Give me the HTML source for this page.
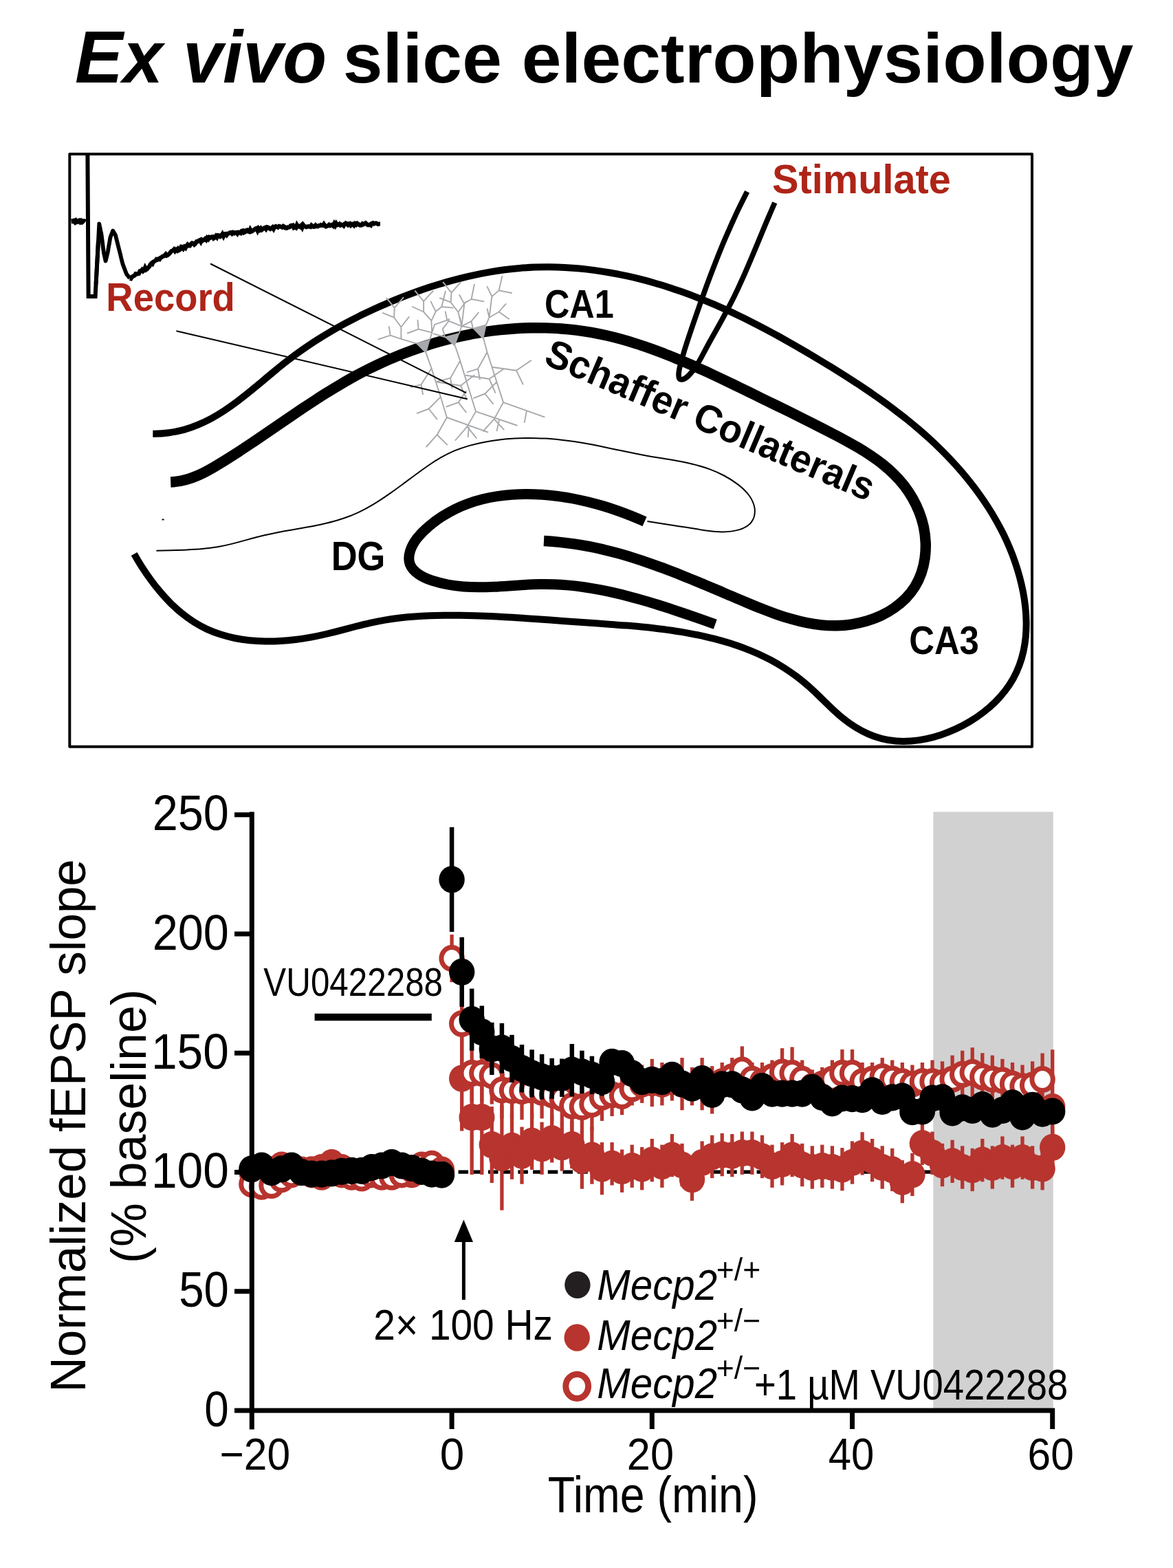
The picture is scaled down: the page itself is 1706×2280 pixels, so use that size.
<!DOCTYPE html>
<html lang="en">
<head>
<meta charset="utf-8">
<title>Ex vivo slice electrophysiology</title>
<style>
html,body{margin:0;padding:0;background:#fff;}
body{width:1706px;height:2280px;overflow:hidden;font-family:"Liberation Sans",sans-serif;}
svg{display:block;position:absolute;left:0;top:0;}
text{font-family:"Liberation Sans",sans-serif;white-space:pre;}
</style>
</head>
<body>
<svg width="1706" height="2280" viewBox="0 0 1706 2280">
<rect x="0" y="0" width="1706" height="2280" fill="#fff"/>

<g id="title">
<text transform="translate(108.97 119.70) scale(1 1.0223)" font-size="104.58" font-weight="bold" font-style="italic" fill="#000" >Ex vivo</text>
<text transform="translate(498.76 119.70) scale(1 0.9818)" font-size="103.96" font-weight="bold" font-style="normal" fill="#000" >slice electrophysiology</text>
</g>

<g id="diagram" fill="none" stroke="#000" stroke-linejoin="round">
<rect x="101.3" y="224.1" width="1399.7" height="861.7" stroke-width="4"/>
<path d="M227.4 800.8C234.6 800.6 242.0 800.4 249.4 800.2C256.8 800.0 264.3 799.8 271.8 799.4C279.3 799.1 286.8 798.7 294.2 798.0C301.7 797.3 309.1 796.4 316.4 795.2C323.7 794.0 330.9 792.4 338.0 790.6C345.1 788.8 352.2 786.9 359.3 784.9C366.4 782.9 373.5 780.9 380.6 779.2C387.8 777.4 395.1 775.9 402.4 774.4C409.8 773.0 417.1 771.7 424.5 770.5C431.9 769.2 439.3 767.9 446.6 766.6C454.0 765.3 461.3 763.8 468.5 762.2C475.8 760.6 483.0 758.9 490.0 756.8C497.1 754.7 504.0 752.4 510.8 749.6C517.6 746.9 524.2 743.7 530.7 740.3C537.2 736.8 543.6 733.1 549.9 729.1C556.1 725.1 562.3 720.9 568.4 716.6C574.5 712.3 580.6 707.8 586.6 703.4C592.7 698.9 598.7 694.4 604.7 690.0C610.7 685.5 616.7 681.2 622.8 677.0C628.8 672.8 635.0 668.9 641.4 665.2C647.7 661.6 654.3 658.3 661.1 655.4C667.9 652.6 675.0 650.2 682.2 648.1C689.4 646.0 696.7 644.3 704.1 642.9C711.4 641.5 718.8 640.3 726.2 639.4C733.5 638.5 740.9 637.9 748.3 637.5C755.7 637.1 763.1 636.9 770.5 636.9C777.9 636.9 785.3 637.2 792.7 637.6C800.0 638.0 807.4 638.7 814.8 639.5C822.1 640.2 829.5 641.2 836.8 642.3C844.1 643.4 851.5 644.7 858.8 646.1C866.0 647.4 873.3 648.9 880.6 650.4C887.9 651.9 895.2 653.4 902.4 655.0C909.7 656.5 917.0 658.0 924.2 659.5C931.5 661.0 938.8 662.4 946.1 663.7C953.4 664.9 960.7 666.1 968.0 667.3C975.3 668.5 982.5 669.7 989.8 671.1C997.0 672.5 1004.2 674.0 1011.3 675.9C1018.4 677.7 1025.5 679.8 1032.4 682.4C1039.3 684.9 1046.2 687.9 1052.9 691.5C1059.6 695.0 1066.2 699.1 1072.5 703.9C1078.9 708.7 1084.7 714.1 1089.2 720.0C1093.6 726.0 1096.7 732.4 1097.6 739.4C1098.4 746.3 1096.9 753.9 1092.7 759.3C1088.6 764.7 1081.9 768.2 1074.5 770.4C1067.0 772.5 1059.0 773.4 1051.4 773.4C1043.8 773.5 1036.4 772.7 1029.1 771.7C1021.8 770.7 1014.6 769.5 1007.3 768.3C1000.0 767.2 992.7 766.0 985.4 764.9C978.1 763.7 970.8 762.6 963.4 761.4C956.1 760.3 948.7 759.2 941.4 758.1" stroke-width="2"/>
<path d="M222.3 630.7C230.4 630.8 238.2 630.3 245.7 629.2C253.2 628.2 260.5 626.7 267.5 624.8C274.6 622.8 281.5 620.4 288.1 617.6C294.8 614.8 301.2 611.7 307.6 608.3C313.9 604.8 320.1 601.1 326.2 597.1C332.2 593.1 338.2 588.9 344.1 584.5C349.9 580.1 355.7 575.6 361.5 570.9C367.2 566.3 373.0 561.5 378.7 556.8C384.4 552.0 390.0 547.2 395.8 542.5C401.5 537.7 407.2 533.0 413.0 528.4C418.8 523.9 424.7 519.4 430.7 515.0C436.6 510.7 442.6 506.5 448.7 502.4C454.8 498.3 460.9 494.3 467.1 490.5C473.3 486.6 479.6 482.9 485.9 479.2C492.2 475.6 498.6 472.0 505.0 468.6C511.5 465.2 518.0 461.9 524.5 458.6C531.1 455.4 537.7 452.3 544.4 449.2C551.0 446.2 557.7 443.2 564.5 440.3C571.2 437.5 578.0 434.7 584.9 432.0C591.7 429.3 598.6 426.7 605.5 424.2C612.5 421.7 619.5 419.3 626.5 417.0C633.5 414.8 640.5 412.6 647.6 410.6C654.7 408.5 661.8 406.6 668.9 404.8C676.0 403.0 683.2 401.3 690.4 399.8C697.6 398.3 704.8 396.9 712.0 395.6C719.3 394.4 726.5 393.3 733.8 392.3C741.0 391.4 748.3 390.6 755.6 390.0C762.9 389.4 770.2 388.9 777.5 388.6C784.9 388.3 792.2 388.2 799.5 388.3C806.8 388.3 814.2 388.5 821.5 388.9C828.8 389.3 836.1 389.8 843.4 390.5C850.7 391.2 858.0 392.1 865.3 393.1C872.6 394.1 879.9 395.2 887.2 396.5C894.4 397.7 901.6 399.2 908.9 400.7C916.1 402.2 923.3 403.9 930.4 405.7C937.6 407.5 944.7 409.4 951.8 411.5C958.9 413.5 965.9 415.7 972.9 417.9C980.0 420.2 986.9 422.6 993.9 425.0C1000.8 427.5 1007.7 430.1 1014.5 432.8C1021.3 435.4 1028.1 438.2 1034.9 441.1C1041.6 443.9 1048.3 446.9 1055.0 449.9C1061.7 452.9 1068.3 456.0 1074.9 459.2C1081.5 462.4 1088.0 465.6 1094.6 468.9C1101.1 472.2 1107.6 475.6 1114.1 479.1C1120.5 482.5 1127.0 486.0 1133.4 489.5C1139.8 493.1 1146.2 496.7 1152.6 500.3C1158.9 504.0 1165.3 507.7 1171.6 511.4C1178.0 515.1 1184.3 518.9 1190.6 522.7C1196.9 526.4 1203.2 530.3 1209.4 534.1C1215.7 538.0 1221.9 541.9 1228.1 545.8C1234.3 549.7 1240.5 553.7 1246.7 557.7C1252.8 561.8 1258.9 565.9 1265.0 570.0C1271.0 574.2 1277.0 578.4 1283.0 582.6C1289.0 586.9 1294.9 591.2 1300.7 595.7C1306.6 600.1 1312.3 604.6 1318.1 609.1C1323.8 613.7 1329.4 618.4 1335.0 623.1C1340.6 627.9 1346.1 632.7 1351.5 637.7C1356.9 642.6 1362.2 647.6 1367.4 652.8C1372.7 657.9 1377.8 663.2 1382.9 668.6C1387.9 673.9 1392.9 679.4 1397.7 685.0C1402.5 690.6 1407.2 696.3 1411.8 702.1C1416.4 707.9 1420.8 713.8 1425.1 719.8C1429.4 725.8 1433.5 731.9 1437.5 738.1C1441.5 744.3 1445.3 750.6 1448.9 757.1C1452.5 763.5 1456.0 770.0 1459.3 776.6C1462.5 783.2 1465.6 789.9 1468.4 796.7C1471.3 803.5 1473.9 810.3 1476.3 817.3C1478.7 824.3 1480.9 831.4 1482.8 838.5C1484.7 845.6 1486.4 852.9 1487.9 860.2C1489.3 867.4 1490.4 874.8 1491.2 882.1C1492.0 889.4 1492.5 896.8 1492.6 904.1C1492.7 911.3 1492.4 918.6 1491.8 925.7C1491.1 932.9 1490.0 940.0 1488.5 946.9C1487.0 953.9 1485.0 960.7 1482.5 967.3C1480.1 974.0 1477.1 980.4 1473.6 986.7C1470.1 992.9 1466.1 999.0 1461.6 1004.8C1457.1 1010.5 1452.2 1016.1 1446.8 1021.3C1441.5 1026.6 1435.7 1031.5 1429.7 1036.1C1423.6 1040.8 1417.3 1045.1 1410.6 1049.1C1404.0 1053.0 1397.2 1056.7 1390.2 1059.9C1383.2 1063.1 1376.1 1066.0 1368.8 1068.4C1361.6 1070.8 1354.3 1072.8 1347.0 1074.4C1339.6 1075.9 1332.3 1077.0 1325.0 1077.6C1317.8 1078.1 1310.5 1078.2 1303.4 1077.6C1296.3 1077.0 1289.4 1075.8 1282.6 1074.1C1275.7 1072.3 1269.0 1070.0 1262.5 1067.1C1256.0 1064.2 1249.7 1060.9 1243.5 1057.0C1237.3 1053.2 1231.3 1048.9 1225.6 1044.2C1219.8 1039.4 1214.2 1034.3 1208.7 1029.1C1203.1 1023.8 1197.7 1018.4 1192.2 1013.1C1186.8 1007.7 1181.3 1002.5 1175.6 997.5C1170.0 992.6 1164.2 987.9 1158.4 983.5C1152.5 979.1 1146.5 975.0 1140.4 971.1C1134.3 967.3 1128.1 963.6 1121.8 960.2C1115.4 956.9 1109.0 953.7 1102.5 950.8C1096.0 947.8 1089.4 945.1 1082.7 942.6C1076.1 940.0 1069.3 937.7 1062.5 935.5C1055.6 933.4 1048.7 931.4 1041.8 929.6C1034.8 927.7 1027.7 926.1 1020.7 924.5C1013.6 923.0 1006.4 921.6 999.2 920.3C992.0 919.1 984.8 917.9 977.5 916.8C970.2 915.8 962.9 914.8 955.6 914.0C948.2 913.1 940.9 912.3 933.5 911.6C926.1 910.9 918.7 910.2 911.2 909.6C903.8 909.0 896.4 908.4 888.9 907.9C881.5 907.4 874.1 906.8 866.6 906.3C859.2 905.8 851.8 905.3 844.3 904.8C836.9 904.3 829.5 903.8 822.2 903.3C814.8 902.7 807.4 902.2 800.1 901.6C792.7 901.1 785.4 900.6 778.1 900.1C770.7 899.5 763.4 899.0 756.1 898.5C748.8 898.1 741.5 897.6 734.2 897.2C726.9 896.8 719.7 896.4 712.4 896.1C705.1 895.8 697.8 895.5 690.5 895.3C683.3 895.1 676.0 894.9 668.7 894.8C661.4 894.7 654.1 894.7 646.8 894.8C639.5 894.9 632.2 895.0 624.9 895.3C617.6 895.6 610.4 896.0 603.1 896.5C595.8 897.0 588.5 897.7 581.3 898.5C574.1 899.4 566.9 900.4 559.7 901.6C552.5 902.8 545.4 904.2 538.3 905.8C531.2 907.4 524.1 909.2 517.0 911.0C509.9 912.8 502.8 914.7 495.7 916.6C488.6 918.5 481.4 920.3 474.2 922.0C467.0 923.7 459.7 925.2 452.3 926.6C444.9 927.9 437.5 929.1 430.1 930.0C422.6 930.9 415.2 931.6 407.7 932.0C400.3 932.5 392.8 932.6 385.4 932.5C378.0 932.4 370.7 932.0 363.4 931.3C356.1 930.5 348.9 929.5 341.8 928.0C334.8 926.6 327.8 924.8 321.0 922.6C314.1 920.5 307.5 917.9 301.0 914.9C294.5 911.9 288.2 908.4 282.1 904.6C276.0 900.7 270.1 896.4 264.4 891.7C258.7 887.1 253.2 882.1 247.9 876.9C242.7 871.6 237.6 866.1 232.8 860.3C227.9 854.6 223.3 848.7 218.9 842.6C214.5 836.6 210.3 830.4 206.3 824.2C202.3 818.0 198.6 811.8 195.1 805.5" stroke-width="10"/>
<path d="M248.2 701.0C255.9 700.7 263.3 699.5 270.4 697.5C277.6 695.6 284.4 692.9 291.1 689.9C297.8 686.8 304.3 683.2 310.7 679.5C317.2 675.7 323.5 671.8 329.8 667.9C336.1 663.9 342.3 659.9 348.5 655.9C354.7 651.8 360.9 647.7 367.0 643.6C373.2 639.5 379.3 635.3 385.4 631.1C391.5 627.0 397.6 622.8 403.7 618.6C409.8 614.4 415.9 610.3 422.0 606.1C428.1 602.0 434.2 597.8 440.3 593.7C446.4 589.6 452.6 585.6 458.8 581.6C464.9 577.5 471.2 573.6 477.4 569.7C483.7 565.8 490.0 562.0 496.3 558.3C502.7 554.5 509.1 550.9 515.5 547.3C522.0 543.8 528.6 540.4 535.2 537.0C541.8 533.7 548.5 530.5 555.2 527.4C562.0 524.3 568.8 521.4 575.8 518.6C582.7 515.7 589.6 513.0 596.6 510.5C603.7 507.9 610.8 505.5 617.9 503.2C625.0 500.9 632.2 498.7 639.4 496.7C646.6 494.7 653.9 492.8 661.2 491.1C668.5 489.4 675.8 487.8 683.1 486.4C690.5 484.9 697.9 483.7 705.3 482.5C712.7 481.4 720.1 480.5 727.5 479.7C734.9 478.8 742.3 478.2 749.7 477.7C757.2 477.2 764.6 476.9 772.0 476.8C779.4 476.6 786.8 476.7 794.2 476.9C801.6 477.1 809.0 477.4 816.4 478.0C823.7 478.5 831.1 479.3 838.4 480.2C845.7 481.1 853.0 482.2 860.2 483.4C867.4 484.7 874.6 486.2 881.8 487.8C888.9 489.4 896.1 491.2 903.2 493.2C910.3 495.1 917.3 497.2 924.3 499.5C931.4 501.7 938.4 504.0 945.3 506.5C952.3 509.0 959.2 511.6 966.2 514.3C973.1 517.0 980.0 519.7 986.8 522.6C993.7 525.5 1000.5 528.4 1007.3 531.4C1014.1 534.4 1020.9 537.5 1027.7 540.6C1034.5 543.8 1041.2 546.9 1048.0 550.1C1054.7 553.3 1061.4 556.5 1068.1 559.8C1074.8 563.0 1081.5 566.3 1088.2 569.5C1094.8 572.8 1101.5 576.0 1108.1 579.3C1114.8 582.5 1121.4 585.7 1128.0 589.0C1134.7 592.2 1141.3 595.5 1147.9 598.7C1154.5 602.0 1161.1 605.3 1167.7 608.6C1174.4 611.9 1181.0 615.2 1187.6 618.6C1194.2 621.9 1200.8 625.3 1207.4 628.8C1214.1 632.2 1220.7 635.7 1227.3 639.2C1233.9 642.8 1240.5 646.4 1246.9 650.2C1253.4 654.0 1259.8 658.0 1265.9 662.1C1272.1 666.2 1278.1 670.5 1283.9 675.1C1289.6 679.7 1295.1 684.5 1300.3 689.7C1305.5 694.8 1310.4 700.3 1315.0 706.1C1319.5 712.0 1323.6 718.1 1327.3 724.6C1331.0 731.1 1334.2 737.8 1336.9 744.8C1339.6 751.8 1341.8 759.0 1343.4 766.3C1345.0 773.7 1345.9 781.3 1346.2 788.9C1346.5 796.5 1346.1 804.2 1345.1 811.7C1344.0 819.2 1342.3 826.6 1339.9 833.6C1337.5 840.6 1334.3 847.2 1330.5 853.3C1326.7 859.4 1322.2 865.0 1317.2 870.2C1312.2 875.3 1306.6 879.9 1300.6 884.0C1294.7 888.2 1288.3 891.8 1281.6 895.0C1274.9 898.1 1267.9 900.8 1260.8 902.9C1253.6 905.0 1246.3 906.7 1239.0 907.8C1231.6 909.0 1224.2 909.6 1216.8 909.8C1209.5 909.9 1202.1 909.6 1194.8 908.9C1187.5 908.1 1180.3 907.0 1173.0 905.5C1165.8 904.1 1158.6 902.3 1151.4 900.2C1144.2 898.2 1137.0 895.9 1129.9 893.4C1122.8 890.9 1115.7 888.2 1108.6 885.4C1101.6 882.7 1094.6 879.8 1087.6 876.8C1080.6 873.9 1073.6 871.0 1066.7 868.0C1059.7 865.1 1052.8 862.1 1046.0 859.2C1039.1 856.3 1032.2 853.4 1025.3 850.5C1018.5 847.6 1011.6 844.8 1004.8 842.0C998.0 839.2 991.1 836.4 984.3 833.7C977.4 831.0 970.6 828.4 963.7 825.8C956.8 823.2 949.9 820.8 943.0 818.4C936.1 816.0 929.1 813.7 922.2 811.5C915.2 809.3 908.2 807.2 901.1 805.2C894.1 803.2 887.0 801.4 879.8 799.7C872.7 797.9 865.5 796.4 858.2 794.9C851.0 793.5 843.6 792.2 836.2 791.1C828.9 790.0 821.4 789.0 813.9 788.3C806.3 787.5 798.7 786.9 791.0 786.5" stroke-width="15.4"/>
<path d="M937.5 758.4C931.1 755.5 924.5 752.7 917.8 750.0C911.1 747.3 904.3 744.7 897.4 742.3C890.5 739.9 883.5 737.6 876.4 735.5C869.3 733.4 862.1 731.5 854.9 729.7C847.6 728.0 840.3 726.4 833.0 725.0C825.7 723.6 818.3 722.5 810.9 721.5C803.6 720.5 796.2 719.8 788.8 719.3C781.4 718.8 774.1 718.5 766.7 718.5C759.4 718.5 752.1 718.8 744.9 719.3C737.6 719.8 730.4 720.6 723.3 721.7C716.2 722.8 709.2 724.1 702.2 725.8C695.3 727.5 688.4 729.5 681.7 732.0C674.9 734.4 668.2 737.2 661.6 740.4C655.0 743.7 648.5 747.4 642.1 751.6C635.6 755.8 629.2 760.5 623.1 765.8C617.0 771.0 611.3 776.7 606.6 782.7C602.0 788.8 598.3 795.2 596.4 801.8C594.4 808.5 594.2 815.2 596.4 820.8C598.6 826.3 602.9 830.9 608.5 834.7C614.1 838.6 621.0 841.7 628.3 844.2C635.7 846.6 643.5 848.5 651.2 850.0C658.8 851.4 666.4 852.3 673.9 853.0C681.4 853.6 688.9 853.8 696.3 853.8C703.7 853.9 711.1 853.6 718.4 853.3C725.8 852.9 733.1 852.4 740.4 851.9C747.7 851.4 755.0 850.9 762.3 850.4C769.5 850.0 776.8 849.6 784.1 849.5C791.3 849.3 798.6 849.4 805.9 849.7C813.1 849.9 820.4 850.4 827.7 851.1C835.0 851.8 842.2 852.7 849.5 853.7C856.7 854.8 864.0 856.0 871.2 857.4C878.5 858.7 885.7 860.3 892.9 861.9C900.1 863.5 907.3 865.3 914.5 867.2C921.7 869.1 928.8 871.0 935.9 873.1C943.1 875.2 950.2 877.3 957.2 879.5C964.3 881.8 971.3 884.0 978.3 886.3C985.3 888.7 992.3 891.0 999.2 893.4C1006.1 895.8 1013.0 898.1 1019.8 900.5C1026.7 902.9 1033.5 905.3 1040.2 907.7" stroke-width="15"/>
<path d="M1086.6 278.7C1083.2 285.4 1079.8 292.1 1076.5 298.9C1073.2 305.6 1070.0 312.5 1066.9 319.3C1063.7 326.2 1060.7 333.1 1057.7 340.1C1054.6 347.0 1051.7 354.0 1048.8 361.0C1045.9 368.0 1043.1 375.0 1040.4 382.1C1037.6 389.1 1034.9 396.2 1032.2 403.3C1029.5 410.4 1026.9 417.5 1024.4 424.6C1021.8 431.7 1019.3 438.8 1016.8 445.9C1014.3 453.0 1011.8 460.1 1009.4 467.2C1007.0 474.3 1004.6 481.3 1002.2 488.4C999.8 495.5 997.5 502.6 995.3 509.8C993.1 517.1 991.0 524.6 989.0 532.4C987.1 540.2 985.0 551.9 991.0 552.0C996.9 552.2 1002.9 544.9 1007.6 539.2C1012.2 533.5 1016.1 526.8 1019.8 520.0C1023.5 513.1 1027.1 506.2 1030.8 499.4C1034.5 492.7 1038.2 486.1 1041.9 479.5C1045.6 473.0 1049.2 466.4 1052.8 459.9C1056.4 453.3 1059.9 446.7 1063.3 440.0C1066.7 433.4 1070.0 426.6 1073.2 419.8C1076.4 412.9 1079.5 406.0 1082.6 399.1C1085.6 392.2 1088.6 385.2 1091.6 378.2C1094.5 371.2 1097.5 364.2 1100.4 357.2C1103.3 350.2 1106.2 343.2 1109.1 336.2C1112.0 329.2 1114.9 322.3 1117.9 315.4C1120.8 308.4 1123.8 301.5 1126.8 294.7" stroke-width="7.7"/>
<path d="M605.4 499.4L583.4 492.8L567.7 487.6L550.4 493.4M567.7 487.6L565.8 475.1M583.4 492.8L583.4 475.5L573.2 461.7L557.0 455.1M573.2 461.7L573.7 447.6L562.2 433.4M573.7 447.6L586.6 432.6M583.4 475.5L594.7 460.9M625.1 493.9L628.2 483.7L627.4 466.4L616.1 453.5L599.9 446.0M616.1 453.5L616.1 438.1L603.8 423.2M616.1 438.1L629.8 423.2M628.2 483.7L608.6 478.7L592.8 484.5M608.6 478.7L607.5 465.6M627.4 466.4L633.7 453.1L626.6 438.4M633.7 453.1L642.3 446.0L647.8 423.7M642.3 446.0L658.8 447.6M628.2 483.7L632.1 471.9L650.2 465.6L647.8 453.1M650.2 465.6L653.3 464.1M647.0 490.0L630.5 485.3M647.0 490.0L643.9 478.2L651.8 468.0M667.9 484.5L671.4 474.3L666.4 453.8L655.7 439.7L639.7 433.4M655.7 439.7L656.5 425.6L644.7 410.6M656.5 425.6L669.5 411.0M671.4 474.3L675.3 442.1L668.3 429.0M675.3 442.1L677.4 438.9M671.4 474.3L650.2 465.6L632.1 471.9M666.4 453.8L676.1 440.5L685.5 435.0L689.9 413.8M685.5 435.0L703.6 438.4M671.4 474.3L669.0 461.7M687.9 477.4L671.4 474.3M687.9 477.4L685.5 467.2L695.8 454.6M685.5 467.2L671.4 474.3M707.2 471.9L711.5 461.7L715.4 431.1L708.6 416.9M715.4 431.1L725.6 422.4L730.3 402.0M725.6 422.4L744.0 426.0M711.5 461.7L725.6 453.5L735.5 442.1M725.6 453.5L740.2 463.7M711.5 461.7L708.6 449.1M619.7 513.6L627.6 535.6L640.9 577.2L649.9 607.0L709.3 628.3M649.9 607.0L635.7 632.2L620.2 649.5M635.7 632.2L650.3 646.6M627.6 535.6L612.6 559.1L597.7 563.1M612.6 559.1L615.0 573.3M640.9 577.2L623.6 594.5L606.7 600.8M623.6 594.5L635.4 609.4M662.1 503.4L669.2 524.6L692.0 598.4L751.7 618.5M692.0 598.4L679.4 620.4L662.4 640.0M679.4 620.4L692.8 636.9M681.8 621.2L680.7 635.3M669.2 524.6L655.1 549.7L634.6 555.2M655.1 549.7L657.4 563.8M677.8 568.6L666.8 585.1L649.2 591.3M666.8 585.1L677.8 599.5M689.6 545.8L670.0 560.7L633.8 555.2M670.0 560.7L677.8 578.0M703.0 491.6L708.5 512.0L732.0 585.1L791.7 606.3M765.8 598.4L762.7 614.1M732.0 585.1L718.7 609.4L703.0 626.7M718.7 609.4L732.8 624.6M725.8 611.8L722.6 626.4M703.0 626.7L709.3 628.3M708.5 512.0L695.1 536.3L679.7 541.1M695.1 536.3L697.9 551.6M717.1 534.0L750.9 538.7L772.4 524.2M750.9 538.7L760.6 558.7M732.0 536.8L711.6 551.0L677.8 545.8M711.6 551.0L720.3 570.9M721.8 556.0L705.3 572.5L689.1 578.8M705.3 572.5L717.1 587.1" stroke="#a7a9ac" stroke-width="1.9" stroke-linecap="round"/>
<path d="M605.4 499.4L625.0 493.9L619.6 513.5Z" fill="#a7a9ac" stroke="#a7a9ac" stroke-width="1"/>
<path d="M647.0 490.0L667.9 484.5L661.2 503.3Z" fill="#a7a9ac" stroke="#a7a9ac" stroke-width="1"/>
<path d="M687.9 477.4L707.2 471.9L702.8 493.1Z" fill="#a7a9ac" stroke="#a7a9ac" stroke-width="1"/>
<path d="M306 383.5L678.1 571.3M256.4 481.2L679.8 580.2" stroke-width="2"/>
<rect x="235.5" y="754.6" width="3.2" height="1.8" fill="#000" stroke="none"/>
<path d="M103.6 321.8L106.0 321.5L107.5 321.1L109.0 322.7L110.5 321.0L112.0 322.5L113.5 322.0L115.0 321.1L116.5 322.6L118.0 321.2L119.5 322.6L121.0 321.5L122.5 321.6L124.0 322.8" stroke-width="7" stroke-linejoin="miter"/>
<path d="M127.4 226L128.6 431L138.6 431L143 350" stroke-width="6" stroke-linejoin="miter"/>
<path d="M139.6 413.0L144.3 325.5L144.9 328.6L145.6 331.7L146.2 334.8L146.9 337.9L147.5 341.0L147.9 344.0L148.3 347.0L148.7 350.0L149.1 353.0L149.4 356.0L149.8 359.0L150.2 362.0L150.6 365.0L151.0 368.0L151.9 371.8L152.7 375.7L153.6 379.5L154.6 375.7L155.5 371.8L156.5 368.0L157.1 364.7L157.6 361.4L158.2 358.1L158.8 354.9L159.4 351.6L159.9 348.3L160.5 345.0L161.7 341.9L163.0 338.7L164.2 335.6L166.1 338.8L168.0 342.0L168.8 345.3L169.7 348.7L170.5 352.0L171.3 355.3L172.2 358.7L173.0 362.0L173.8 365.1L174.6 368.3L175.4 371.4L176.1 374.6L176.9 377.7L177.7 380.9L178.5 384.0L179.6 386.9L180.7 389.8L181.8 392.7L182.9 395.6L184.0 398.5L186.4 401.3L188.8 404.7" stroke-width="5.8" stroke-linejoin="round" stroke-linecap="butt"/>
<path d="M188.8 404.7L190.5 405.2L192.2 402.4L193.9 401.5L195.6 400.8L197.3 398.2L199.0 398.5L200.5 398.1L202.0 397.8L203.5 394.1L205.0 394.0L206.5 392.3L208.0 394.2L209.5 392.9L211.0 389.3L212.5 392.2L214.0 391.2L215.5 389.0L217.0 388.0L218.5 384.9L220.0 383.1L221.5 383.9L223.0 380.7L224.5 380.0L226.0 379.0L227.5 377.0L229.0 377.7L230.5 376.5L232.0 377.0L233.5 374.7L235.0 374.1L236.5 372.7L238.0 372.6L239.5 371.1L241.0 369.6L242.5 371.7L244.0 371.0L245.5 369.6L247.0 368.3L248.5 366.0L250.0 364.9L251.5 364.4L253.0 362.8L254.5 365.0L256.1 363.0L257.6 364.3L259.1 361.9L260.6 363.6L262.1 362.6L263.7 358.7L265.2 359.0L266.7 361.3L268.2 359.0L269.8 360.5L271.3 357.6L272.9 355.7L274.5 357.3L276.1 357.3L277.7 354.7L279.3 353.4L281.0 353.8L282.6 355.7L284.2 354.3L285.8 351.2L287.4 351.1L289.0 349.9L290.5 349.2L292.1 351.7L293.6 348.7L295.2 349.7L296.7 348.8L298.2 347.3L299.8 348.9L301.3 346.0L302.9 347.6L304.4 345.0L306.0 345.7L307.5 344.4L309.1 344.2L310.7 346.7L312.3 345.6L313.9 343.3L315.5 345.2L317.0 342.2L318.6 342.5L320.2 344.0L321.8 342.8L323.4 340.3L325.0 343.5L326.6 340.1L328.1 340.0L329.7 341.8L331.3 339.7L332.8 339.4L334.4 338.2L336.0 338.0L337.5 339.7L339.1 338.1L340.7 339.2L342.2 338.1L343.8 338.1L345.3 339.9L346.9 337.7L348.4 337.8L350.0 338.8L351.5 335.8L353.1 335.4L354.6 338.2L356.2 337.5L357.7 335.0L359.3 334.5L360.8 336.5L362.4 337.0L363.9 333.8L365.5 336.6L367.0 336.0L368.5 334.7L370.1 333.8L371.6 332.4L373.1 331.9L374.7 335.5L376.2 332.4L377.7 334.1L379.3 332.1L380.8 334.2L382.3 333.1L383.9 331.7L385.4 331.0L386.9 333.0L388.5 330.3L390.0 330.7L391.6 331.9L393.2 333.0L394.7 331.9L396.3 330.5L397.9 332.9L399.5 329.9L401.0 329.1L402.6 330.0L404.2 330.6L405.8 328.9L407.4 329.3L408.9 329.9L410.5 330.6L412.1 328.8L413.7 329.6L415.2 331.6L416.8 331.8L418.4 330.4L419.9 330.5L421.4 330.0L422.9 328.1L424.4 327.7L425.9 327.5L427.4 331.0L428.9 330.1L430.4 331.1L431.9 327.2L433.4 329.6L435.0 328.9L436.5 329.9L438.0 328.1L439.5 330.8L441.0 327.0L442.5 328.8L444.0 329.5L445.5 330.1L447.0 329.4L448.5 329.2L450.0 329.5L451.5 329.9L453.0 327.6L454.5 328.9L456.0 329.7L457.5 329.5L459.0 327.6L460.5 329.1L462.0 329.3L463.5 328.1L465.0 328.2L466.5 327.2L468.0 328.0L469.5 328.0L471.0 325.9L472.5 328.0L474.0 329.4L475.5 328.9L477.0 328.2L478.5 326.8L480.0 328.1L481.5 327.5L483.0 326.9L484.6 328.4L486.1 325.3L487.6 327.9L489.1 325.0L490.7 327.2L492.2 326.7L493.7 325.7L495.2 327.5L496.7 326.6L498.3 327.0L499.8 328.2L501.3 325.5L502.8 324.5L504.3 325.6L505.9 327.0L507.4 325.1L508.9 324.9L510.4 327.8L512.0 326.7L513.5 325.8L515.0 327.6L516.5 325.3L518.0 326.6L519.6 324.7L521.1 325.6L522.6 327.1L524.1 327.5L525.6 327.4L527.2 325.4L528.7 326.2L530.2 325.1L531.7 324.3L533.2 325.7L534.8 327.1L536.3 327.1L537.8 326.5L539.3 327.5L540.8 324.8L542.4 324.3L543.9 325.4L545.4 324.7L546.9 324.4L548.4 325.2L550.0 326.0L551.5 325.5L553.0 325.5" stroke-width="6.2" stroke-linejoin="miter" stroke-miterlimit="3" stroke-linecap="butt"/>
</g>
<g id="labels">
<text transform="translate(154.33 451.70) scale(1 1.0689)" font-size="54.43" font-weight="bold" font-style="normal" fill="#ae2418" >Record</text>
<text transform="translate(1123.07 280.80) scale(1 1.0178)" font-size="57.74" font-weight="bold" font-style="normal" fill="#ae2418" >Stimulate</text>
<text transform="translate(791.98 462.00) scale(1 1.1486)" font-size="50.40" font-weight="bold" font-style="normal" fill="#000" >CA1</text>
<text transform="translate(481.65 829.40) scale(1 1.1181)" font-size="52.55" font-weight="bold" font-style="normal" fill="#000" >DG</text>
<text transform="translate(1322.17 950.70) scale(1 1.1412)" font-size="50.86" font-weight="bold" font-style="normal" fill="#000" >CA3</text>
<text transform="translate(790.50 529.00) rotate(23) translate(-1.64 0) scale(1 1.0502)" font-size="54.71" font-weight="bold" font-style="normal" fill="#000" >Schaffer Collaterals</text>
</g>

<g id="graph">
<rect x="1357.3" y="1180.5" width="174.5" height="870.4" fill="#d1d1d1"/>
<line x1="644.9" y1="1704.2" x2="1534" y2="1704.2" stroke="#000" stroke-width="5.2" stroke-dasharray="14.5 7.2"/>
<g id="series-het"><line x1="365.9" y1="1694.0" x2="365.9" y2="1714.8" stroke="#b8342e" stroke-width="5.3"/><ellipse cx="365.9" cy="1704.4" rx="18.7" ry="19.6" fill="#b8342e"/><line x1="380.5" y1="1697.5" x2="380.5" y2="1718.3" stroke="#b8342e" stroke-width="5.3"/><ellipse cx="380.5" cy="1707.9" rx="18.7" ry="19.6" fill="#b8342e"/><line x1="395.0" y1="1690.5" x2="395.0" y2="1711.3" stroke="#b8342e" stroke-width="5.3"/><ellipse cx="395.0" cy="1700.9" rx="18.7" ry="19.6" fill="#b8342e"/><line x1="409.6" y1="1683.6" x2="409.6" y2="1704.4" stroke="#b8342e" stroke-width="5.3"/><ellipse cx="409.6" cy="1694.0" rx="18.7" ry="19.6" fill="#b8342e"/><line x1="424.1" y1="1690.5" x2="424.1" y2="1711.3" stroke="#b8342e" stroke-width="5.3"/><ellipse cx="424.1" cy="1700.9" rx="18.7" ry="19.6" fill="#b8342e"/><line x1="438.7" y1="1694.0" x2="438.7" y2="1714.8" stroke="#b8342e" stroke-width="5.3"/><ellipse cx="438.7" cy="1704.4" rx="18.7" ry="19.6" fill="#b8342e"/><line x1="453.3" y1="1690.5" x2="453.3" y2="1711.3" stroke="#b8342e" stroke-width="5.3"/><ellipse cx="453.3" cy="1700.9" rx="18.7" ry="19.6" fill="#b8342e"/><line x1="467.8" y1="1687.1" x2="467.8" y2="1707.9" stroke="#b8342e" stroke-width="5.3"/><ellipse cx="467.8" cy="1697.5" rx="18.7" ry="19.6" fill="#b8342e"/><line x1="482.4" y1="1680.1" x2="482.4" y2="1700.9" stroke="#b8342e" stroke-width="5.3"/><ellipse cx="482.4" cy="1690.5" rx="18.7" ry="19.6" fill="#b8342e"/><line x1="496.9" y1="1687.1" x2="496.9" y2="1707.9" stroke="#b8342e" stroke-width="5.3"/><ellipse cx="496.9" cy="1697.5" rx="18.7" ry="19.6" fill="#b8342e"/><line x1="511.5" y1="1697.5" x2="511.5" y2="1718.3" stroke="#b8342e" stroke-width="5.3"/><ellipse cx="511.5" cy="1707.9" rx="18.7" ry="19.6" fill="#b8342e"/><line x1="526.1" y1="1700.9" x2="526.1" y2="1721.7" stroke="#b8342e" stroke-width="5.3"/><ellipse cx="526.1" cy="1711.3" rx="18.7" ry="19.6" fill="#b8342e"/><line x1="540.6" y1="1690.5" x2="540.6" y2="1711.3" stroke="#b8342e" stroke-width="5.3"/><ellipse cx="540.6" cy="1700.9" rx="18.7" ry="19.6" fill="#b8342e"/><line x1="555.2" y1="1694.0" x2="555.2" y2="1714.8" stroke="#b8342e" stroke-width="5.3"/><ellipse cx="555.2" cy="1704.4" rx="18.7" ry="19.6" fill="#b8342e"/><line x1="569.7" y1="1690.5" x2="569.7" y2="1711.3" stroke="#b8342e" stroke-width="5.3"/><ellipse cx="569.7" cy="1700.9" rx="18.7" ry="19.6" fill="#b8342e"/><line x1="584.3" y1="1694.0" x2="584.3" y2="1714.8" stroke="#b8342e" stroke-width="5.3"/><ellipse cx="584.3" cy="1704.4" rx="18.7" ry="19.6" fill="#b8342e"/><line x1="598.9" y1="1697.5" x2="598.9" y2="1718.3" stroke="#b8342e" stroke-width="5.3"/><ellipse cx="598.9" cy="1707.9" rx="18.7" ry="19.6" fill="#b8342e"/><line x1="613.4" y1="1690.5" x2="613.4" y2="1711.3" stroke="#b8342e" stroke-width="5.3"/><ellipse cx="613.4" cy="1700.9" rx="18.7" ry="19.6" fill="#b8342e"/><line x1="628.0" y1="1687.1" x2="628.0" y2="1707.9" stroke="#b8342e" stroke-width="5.3"/><ellipse cx="628.0" cy="1697.5" rx="18.7" ry="19.6" fill="#b8342e"/><line x1="642.5" y1="1694.0" x2="642.5" y2="1714.8" stroke="#b8342e" stroke-width="5.3"/><ellipse cx="642.5" cy="1704.4" rx="18.7" ry="19.6" fill="#b8342e"/>
<line x1="671.7" y1="1492.0" x2="671.7" y2="1644.5" stroke="#b8342e" stroke-width="5.3"/><ellipse cx="671.7" cy="1568.2" rx="18.7" ry="19.6" fill="#b8342e"/><line x1="686.2" y1="1541.5" x2="686.2" y2="1707.9" stroke="#b8342e" stroke-width="5.3"/><ellipse cx="686.2" cy="1624.7" rx="18.7" ry="19.6" fill="#b8342e"/><line x1="700.8" y1="1541.5" x2="700.8" y2="1707.9" stroke="#b8342e" stroke-width="5.3"/><ellipse cx="700.8" cy="1624.7" rx="18.7" ry="19.6" fill="#b8342e"/><line x1="715.3" y1="1609.1" x2="715.3" y2="1720.0" stroke="#b8342e" stroke-width="5.3"/><ellipse cx="715.3" cy="1664.6" rx="18.7" ry="19.6" fill="#b8342e"/><line x1="729.9" y1="1607.4" x2="729.9" y2="1759.8" stroke="#b8342e" stroke-width="5.3"/><ellipse cx="729.9" cy="1683.6" rx="18.7" ry="19.6" fill="#b8342e"/><line x1="744.5" y1="1617.8" x2="744.5" y2="1714.8" stroke="#b8342e" stroke-width="5.3"/><ellipse cx="744.5" cy="1666.3" rx="18.7" ry="19.6" fill="#b8342e"/><line x1="759.0" y1="1638.6" x2="759.0" y2="1721.7" stroke="#b8342e" stroke-width="5.3"/><ellipse cx="759.0" cy="1680.1" rx="18.7" ry="19.6" fill="#b8342e"/><line x1="773.6" y1="1617.8" x2="773.6" y2="1700.9" stroke="#b8342e" stroke-width="5.3"/><ellipse cx="773.6" cy="1659.4" rx="18.7" ry="19.6" fill="#b8342e"/><line x1="788.1" y1="1631.6" x2="788.1" y2="1707.9" stroke="#b8342e" stroke-width="5.3"/><ellipse cx="788.1" cy="1669.8" rx="18.7" ry="19.6" fill="#b8342e"/><line x1="802.7" y1="1621.2" x2="802.7" y2="1690.5" stroke="#b8342e" stroke-width="5.3"/><ellipse cx="802.7" cy="1655.9" rx="18.7" ry="19.6" fill="#b8342e"/><line x1="817.3" y1="1633.4" x2="817.3" y2="1702.7" stroke="#b8342e" stroke-width="5.3"/><ellipse cx="817.3" cy="1668.0" rx="18.7" ry="19.6" fill="#b8342e"/><line x1="831.8" y1="1629.9" x2="831.8" y2="1699.2" stroke="#b8342e" stroke-width="5.3"/><ellipse cx="831.8" cy="1664.6" rx="18.7" ry="19.6" fill="#b8342e"/><line x1="846.4" y1="1645.5" x2="846.4" y2="1728.7" stroke="#b8342e" stroke-width="5.3"/><ellipse cx="846.4" cy="1687.1" rx="18.7" ry="19.6" fill="#b8342e"/><line x1="860.9" y1="1638.6" x2="860.9" y2="1721.7" stroke="#b8342e" stroke-width="5.3"/><ellipse cx="860.9" cy="1680.1" rx="18.7" ry="19.6" fill="#b8342e"/><line x1="875.5" y1="1661.1" x2="875.5" y2="1737.3" stroke="#b8342e" stroke-width="5.3"/><ellipse cx="875.5" cy="1699.2" rx="18.7" ry="19.6" fill="#b8342e"/><line x1="890.1" y1="1661.1" x2="890.1" y2="1723.5" stroke="#b8342e" stroke-width="5.3"/><ellipse cx="890.1" cy="1692.3" rx="18.7" ry="19.6" fill="#b8342e"/><line x1="904.6" y1="1671.5" x2="904.6" y2="1733.9" stroke="#b8342e" stroke-width="5.3"/><ellipse cx="904.6" cy="1702.7" rx="18.7" ry="19.6" fill="#b8342e"/><line x1="919.2" y1="1664.6" x2="919.2" y2="1726.9" stroke="#b8342e" stroke-width="5.3"/><ellipse cx="919.2" cy="1695.7" rx="18.7" ry="19.6" fill="#b8342e"/><line x1="933.7" y1="1668.0" x2="933.7" y2="1730.4" stroke="#b8342e" stroke-width="5.3"/><ellipse cx="933.7" cy="1699.2" rx="18.7" ry="19.6" fill="#b8342e"/><line x1="948.3" y1="1655.9" x2="948.3" y2="1718.3" stroke="#b8342e" stroke-width="5.3"/><ellipse cx="948.3" cy="1687.1" rx="18.7" ry="19.6" fill="#b8342e"/><line x1="962.9" y1="1664.6" x2="962.9" y2="1726.9" stroke="#b8342e" stroke-width="5.3"/><ellipse cx="962.9" cy="1695.7" rx="18.7" ry="19.6" fill="#b8342e"/><line x1="977.4" y1="1649.0" x2="977.4" y2="1711.3" stroke="#b8342e" stroke-width="5.3"/><ellipse cx="977.4" cy="1680.1" rx="18.7" ry="19.6" fill="#b8342e"/><line x1="992.0" y1="1662.8" x2="992.0" y2="1725.2" stroke="#b8342e" stroke-width="5.3"/><ellipse cx="992.0" cy="1694.0" rx="18.7" ry="19.6" fill="#b8342e"/><line x1="1006.5" y1="1683.6" x2="1006.5" y2="1746.0" stroke="#b8342e" stroke-width="5.3"/><ellipse cx="1006.5" cy="1714.8" rx="18.7" ry="19.6" fill="#b8342e"/><line x1="1021.1" y1="1659.4" x2="1021.1" y2="1721.7" stroke="#b8342e" stroke-width="5.3"/><ellipse cx="1021.1" cy="1690.5" rx="18.7" ry="19.6" fill="#b8342e"/><line x1="1035.7" y1="1650.7" x2="1035.7" y2="1713.1" stroke="#b8342e" stroke-width="5.3"/><ellipse cx="1035.7" cy="1681.9" rx="18.7" ry="19.6" fill="#b8342e"/><line x1="1050.2" y1="1647.9" x2="1050.2" y2="1710.3" stroke="#b8342e" stroke-width="5.3"/><ellipse cx="1050.2" cy="1679.1" rx="18.7" ry="19.6" fill="#b8342e"/><line x1="1064.8" y1="1649.0" x2="1064.8" y2="1711.3" stroke="#b8342e" stroke-width="5.3"/><ellipse cx="1064.8" cy="1680.1" rx="18.7" ry="19.6" fill="#b8342e"/><line x1="1079.3" y1="1645.5" x2="1079.3" y2="1707.9" stroke="#b8342e" stroke-width="5.3"/><ellipse cx="1079.3" cy="1676.7" rx="18.7" ry="19.6" fill="#b8342e"/><line x1="1093.9" y1="1645.5" x2="1093.9" y2="1707.9" stroke="#b8342e" stroke-width="5.3"/><ellipse cx="1093.9" cy="1676.7" rx="18.7" ry="19.6" fill="#b8342e"/><line x1="1108.5" y1="1650.7" x2="1108.5" y2="1713.1" stroke="#b8342e" stroke-width="5.3"/><ellipse cx="1108.5" cy="1681.9" rx="18.7" ry="19.6" fill="#b8342e"/><line x1="1123.0" y1="1664.6" x2="1123.0" y2="1726.9" stroke="#b8342e" stroke-width="5.3"/><ellipse cx="1123.0" cy="1695.7" rx="18.7" ry="19.6" fill="#b8342e"/><line x1="1137.6" y1="1661.1" x2="1137.6" y2="1723.5" stroke="#b8342e" stroke-width="5.3"/><ellipse cx="1137.6" cy="1692.3" rx="18.7" ry="19.6" fill="#b8342e"/><line x1="1152.1" y1="1649.0" x2="1152.1" y2="1711.3" stroke="#b8342e" stroke-width="5.3"/><ellipse cx="1152.1" cy="1680.1" rx="18.7" ry="19.6" fill="#b8342e"/><line x1="1166.7" y1="1662.8" x2="1166.7" y2="1725.2" stroke="#b8342e" stroke-width="5.3"/><ellipse cx="1166.7" cy="1694.0" rx="18.7" ry="19.6" fill="#b8342e"/><line x1="1181.3" y1="1666.3" x2="1181.3" y2="1728.7" stroke="#b8342e" stroke-width="5.3"/><ellipse cx="1181.3" cy="1697.5" rx="18.7" ry="19.6" fill="#b8342e"/><line x1="1195.8" y1="1664.6" x2="1195.8" y2="1726.9" stroke="#b8342e" stroke-width="5.3"/><ellipse cx="1195.8" cy="1695.7" rx="18.7" ry="19.6" fill="#b8342e"/><line x1="1210.4" y1="1666.3" x2="1210.4" y2="1728.7" stroke="#b8342e" stroke-width="5.3"/><ellipse cx="1210.4" cy="1697.5" rx="18.7" ry="19.6" fill="#b8342e"/><line x1="1224.9" y1="1669.1" x2="1224.9" y2="1731.4" stroke="#b8342e" stroke-width="5.3"/><ellipse cx="1224.9" cy="1700.2" rx="18.7" ry="19.6" fill="#b8342e"/><line x1="1239.5" y1="1659.4" x2="1239.5" y2="1721.7" stroke="#b8342e" stroke-width="5.3"/><ellipse cx="1239.5" cy="1690.5" rx="18.7" ry="19.6" fill="#b8342e"/><line x1="1254.1" y1="1646.2" x2="1254.1" y2="1708.6" stroke="#b8342e" stroke-width="5.3"/><ellipse cx="1254.1" cy="1677.4" rx="18.7" ry="19.6" fill="#b8342e"/><line x1="1268.6" y1="1655.9" x2="1268.6" y2="1718.3" stroke="#b8342e" stroke-width="5.3"/><ellipse cx="1268.6" cy="1687.1" rx="18.7" ry="19.6" fill="#b8342e"/><line x1="1283.2" y1="1666.3" x2="1283.2" y2="1728.7" stroke="#b8342e" stroke-width="5.3"/><ellipse cx="1283.2" cy="1697.5" rx="18.7" ry="19.6" fill="#b8342e"/><line x1="1297.7" y1="1669.8" x2="1297.7" y2="1732.1" stroke="#b8342e" stroke-width="5.3"/><ellipse cx="1297.7" cy="1700.9" rx="18.7" ry="19.6" fill="#b8342e"/><line x1="1312.3" y1="1687.1" x2="1312.3" y2="1749.4" stroke="#b8342e" stroke-width="5.3"/><ellipse cx="1312.3" cy="1718.3" rx="18.7" ry="19.6" fill="#b8342e"/><line x1="1326.9" y1="1676.7" x2="1326.9" y2="1739.1" stroke="#b8342e" stroke-width="5.3"/><ellipse cx="1326.9" cy="1707.9" rx="18.7" ry="19.6" fill="#b8342e"/><line x1="1341.4" y1="1631.6" x2="1341.4" y2="1694.0" stroke="#b8342e" stroke-width="5.3"/><ellipse cx="1341.4" cy="1662.8" rx="18.7" ry="19.6" fill="#b8342e"/><line x1="1356.0" y1="1645.5" x2="1356.0" y2="1707.9" stroke="#b8342e" stroke-width="5.3"/><ellipse cx="1356.0" cy="1676.7" rx="18.7" ry="19.6" fill="#b8342e"/><line x1="1370.5" y1="1662.8" x2="1370.5" y2="1725.2" stroke="#b8342e" stroke-width="5.3"/><ellipse cx="1370.5" cy="1694.0" rx="18.7" ry="19.6" fill="#b8342e"/><line x1="1385.1" y1="1657.6" x2="1385.1" y2="1720.0" stroke="#b8342e" stroke-width="5.3"/><ellipse cx="1385.1" cy="1688.8" rx="18.7" ry="19.6" fill="#b8342e"/><line x1="1399.7" y1="1666.3" x2="1399.7" y2="1728.7" stroke="#b8342e" stroke-width="5.3"/><ellipse cx="1399.7" cy="1697.5" rx="18.7" ry="19.6" fill="#b8342e"/><line x1="1414.2" y1="1669.8" x2="1414.2" y2="1732.1" stroke="#b8342e" stroke-width="5.3"/><ellipse cx="1414.2" cy="1700.9" rx="18.7" ry="19.6" fill="#b8342e"/><line x1="1428.8" y1="1655.9" x2="1428.8" y2="1718.3" stroke="#b8342e" stroke-width="5.3"/><ellipse cx="1428.8" cy="1687.1" rx="18.7" ry="19.6" fill="#b8342e"/><line x1="1443.3" y1="1666.3" x2="1443.3" y2="1728.7" stroke="#b8342e" stroke-width="5.3"/><ellipse cx="1443.3" cy="1697.5" rx="18.7" ry="19.6" fill="#b8342e"/><line x1="1457.9" y1="1652.4" x2="1457.9" y2="1714.8" stroke="#b8342e" stroke-width="5.3"/><ellipse cx="1457.9" cy="1683.6" rx="18.7" ry="19.6" fill="#b8342e"/><line x1="1472.5" y1="1664.6" x2="1472.5" y2="1726.9" stroke="#b8342e" stroke-width="5.3"/><ellipse cx="1472.5" cy="1695.7" rx="18.7" ry="19.6" fill="#b8342e"/><line x1="1487.0" y1="1652.4" x2="1487.0" y2="1714.8" stroke="#b8342e" stroke-width="5.3"/><ellipse cx="1487.0" cy="1683.6" rx="18.7" ry="19.6" fill="#b8342e"/><line x1="1501.6" y1="1666.3" x2="1501.6" y2="1728.7" stroke="#b8342e" stroke-width="5.3"/><ellipse cx="1501.6" cy="1697.5" rx="18.7" ry="19.6" fill="#b8342e"/><line x1="1516.1" y1="1668.0" x2="1516.1" y2="1730.4" stroke="#b8342e" stroke-width="5.3"/><ellipse cx="1516.1" cy="1699.2" rx="18.7" ry="19.6" fill="#b8342e"/><line x1="1530.7" y1="1637.2" x2="1530.7" y2="1699.5" stroke="#b8342e" stroke-width="5.3"/><ellipse cx="1530.7" cy="1668.4" rx="18.7" ry="19.6" fill="#b8342e"/>
</g>
<g id="series-het-vu"><line x1="365.9" y1="1711.3" x2="365.9" y2="1732.1" stroke="#b8342e" stroke-width="5.3"/><ellipse cx="365.9" cy="1721.7" rx="15.2" ry="16" fill="#fff" stroke="#b8342e" stroke-width="7"/><line x1="380.5" y1="1714.8" x2="380.5" y2="1735.6" stroke="#b8342e" stroke-width="5.3"/><ellipse cx="380.5" cy="1725.2" rx="15.2" ry="16" fill="#fff" stroke="#b8342e" stroke-width="7"/><line x1="395.0" y1="1713.1" x2="395.0" y2="1733.9" stroke="#b8342e" stroke-width="5.3"/><ellipse cx="395.0" cy="1723.5" rx="15.2" ry="16" fill="#fff" stroke="#b8342e" stroke-width="7"/><line x1="409.6" y1="1704.4" x2="409.6" y2="1725.2" stroke="#b8342e" stroke-width="5.3"/><ellipse cx="409.6" cy="1714.8" rx="15.2" ry="16" fill="#fff" stroke="#b8342e" stroke-width="7"/><line x1="424.1" y1="1697.5" x2="424.1" y2="1718.3" stroke="#b8342e" stroke-width="5.3"/><ellipse cx="424.1" cy="1707.9" rx="15.2" ry="16" fill="#fff" stroke="#b8342e" stroke-width="7"/><line x1="438.7" y1="1690.5" x2="438.7" y2="1711.3" stroke="#b8342e" stroke-width="5.3"/><ellipse cx="438.7" cy="1700.9" rx="15.2" ry="16" fill="#fff" stroke="#b8342e" stroke-width="7"/><line x1="453.3" y1="1697.5" x2="453.3" y2="1718.3" stroke="#b8342e" stroke-width="5.3"/><ellipse cx="453.3" cy="1707.9" rx="15.2" ry="16" fill="#fff" stroke="#b8342e" stroke-width="7"/><line x1="467.8" y1="1700.9" x2="467.8" y2="1721.7" stroke="#b8342e" stroke-width="5.3"/><ellipse cx="467.8" cy="1711.3" rx="15.2" ry="16" fill="#fff" stroke="#b8342e" stroke-width="7"/><line x1="482.4" y1="1694.0" x2="482.4" y2="1714.8" stroke="#b8342e" stroke-width="5.3"/><ellipse cx="482.4" cy="1704.4" rx="15.2" ry="16" fill="#fff" stroke="#b8342e" stroke-width="7"/><line x1="496.9" y1="1697.5" x2="496.9" y2="1718.3" stroke="#b8342e" stroke-width="5.3"/><ellipse cx="496.9" cy="1707.9" rx="15.2" ry="16" fill="#fff" stroke="#b8342e" stroke-width="7"/><line x1="511.5" y1="1700.9" x2="511.5" y2="1721.7" stroke="#b8342e" stroke-width="5.3"/><ellipse cx="511.5" cy="1711.3" rx="15.2" ry="16" fill="#fff" stroke="#b8342e" stroke-width="7"/><line x1="526.1" y1="1702.7" x2="526.1" y2="1723.5" stroke="#b8342e" stroke-width="5.3"/><ellipse cx="526.1" cy="1713.1" rx="15.2" ry="16" fill="#fff" stroke="#b8342e" stroke-width="7"/><line x1="540.6" y1="1697.5" x2="540.6" y2="1718.3" stroke="#b8342e" stroke-width="5.3"/><ellipse cx="540.6" cy="1707.9" rx="15.2" ry="16" fill="#fff" stroke="#b8342e" stroke-width="7"/><line x1="555.2" y1="1700.9" x2="555.2" y2="1721.7" stroke="#b8342e" stroke-width="5.3"/><ellipse cx="555.2" cy="1711.3" rx="15.2" ry="16" fill="#fff" stroke="#b8342e" stroke-width="7"/><line x1="569.7" y1="1700.9" x2="569.7" y2="1721.7" stroke="#b8342e" stroke-width="5.3"/><ellipse cx="569.7" cy="1711.3" rx="15.2" ry="16" fill="#fff" stroke="#b8342e" stroke-width="7"/><line x1="584.3" y1="1697.5" x2="584.3" y2="1718.3" stroke="#b8342e" stroke-width="5.3"/><ellipse cx="584.3" cy="1707.9" rx="15.2" ry="16" fill="#fff" stroke="#b8342e" stroke-width="7"/><line x1="598.9" y1="1690.5" x2="598.9" y2="1711.3" stroke="#b8342e" stroke-width="5.3"/><ellipse cx="598.9" cy="1700.9" rx="15.2" ry="16" fill="#fff" stroke="#b8342e" stroke-width="7"/><line x1="613.4" y1="1683.6" x2="613.4" y2="1704.4" stroke="#b8342e" stroke-width="5.3"/><ellipse cx="613.4" cy="1694.0" rx="15.2" ry="16" fill="#fff" stroke="#b8342e" stroke-width="7"/><line x1="628.0" y1="1681.9" x2="628.0" y2="1702.7" stroke="#b8342e" stroke-width="5.3"/><ellipse cx="628.0" cy="1692.3" rx="15.2" ry="16" fill="#fff" stroke="#b8342e" stroke-width="7"/><line x1="642.5" y1="1690.5" x2="642.5" y2="1711.3" stroke="#b8342e" stroke-width="5.3"/><ellipse cx="642.5" cy="1700.9" rx="15.2" ry="16" fill="#fff" stroke="#b8342e" stroke-width="7"/>
<line x1="657.1" y1="1358.9" x2="657.1" y2="1428.2" stroke="#b8342e" stroke-width="5.3"/><ellipse cx="657.1" cy="1393.6" rx="15.2" ry="16" fill="#fff" stroke="#b8342e" stroke-width="7"/><line x1="671.7" y1="1391.5" x2="671.7" y2="1585.6" stroke="#b8342e" stroke-width="5.3"/><ellipse cx="671.7" cy="1488.5" rx="15.2" ry="16" fill="#fff" stroke="#b8342e" stroke-width="7"/><line x1="686.2" y1="1519.0" x2="686.2" y2="1602.2" stroke="#b8342e" stroke-width="5.3"/><ellipse cx="686.2" cy="1560.6" rx="15.2" ry="16" fill="#fff" stroke="#b8342e" stroke-width="7"/><line x1="700.8" y1="1519.0" x2="700.8" y2="1602.2" stroke="#b8342e" stroke-width="5.3"/><ellipse cx="700.8" cy="1560.6" rx="15.2" ry="16" fill="#fff" stroke="#b8342e" stroke-width="7"/><line x1="715.3" y1="1522.5" x2="715.3" y2="1605.6" stroke="#b8342e" stroke-width="5.3"/><ellipse cx="715.3" cy="1564.1" rx="15.2" ry="16" fill="#fff" stroke="#b8342e" stroke-width="7"/><line x1="729.9" y1="1543.3" x2="729.9" y2="1626.4" stroke="#b8342e" stroke-width="5.3"/><ellipse cx="729.9" cy="1584.9" rx="15.2" ry="16" fill="#fff" stroke="#b8342e" stroke-width="7"/><line x1="744.5" y1="1544.0" x2="744.5" y2="1627.1" stroke="#b8342e" stroke-width="5.3"/><ellipse cx="744.5" cy="1585.6" rx="15.2" ry="16" fill="#fff" stroke="#b8342e" stroke-width="7"/><line x1="759.0" y1="1545.0" x2="759.0" y2="1628.2" stroke="#b8342e" stroke-width="5.3"/><ellipse cx="759.0" cy="1586.6" rx="15.2" ry="16" fill="#fff" stroke="#b8342e" stroke-width="7"/><line x1="773.6" y1="1543.3" x2="773.6" y2="1626.4" stroke="#b8342e" stroke-width="5.3"/><ellipse cx="773.6" cy="1584.9" rx="15.2" ry="16" fill="#fff" stroke="#b8342e" stroke-width="7"/><line x1="788.1" y1="1550.2" x2="788.1" y2="1626.4" stroke="#b8342e" stroke-width="5.3"/><ellipse cx="788.1" cy="1588.3" rx="15.2" ry="16" fill="#fff" stroke="#b8342e" stroke-width="7"/><line x1="802.7" y1="1553.7" x2="802.7" y2="1629.9" stroke="#b8342e" stroke-width="5.3"/><ellipse cx="802.7" cy="1591.8" rx="15.2" ry="16" fill="#fff" stroke="#b8342e" stroke-width="7"/><line x1="817.3" y1="1558.9" x2="817.3" y2="1635.1" stroke="#b8342e" stroke-width="5.3"/><ellipse cx="817.3" cy="1597.0" rx="15.2" ry="16" fill="#fff" stroke="#b8342e" stroke-width="7"/><line x1="831.8" y1="1570.0" x2="831.8" y2="1646.2" stroke="#b8342e" stroke-width="5.3"/><ellipse cx="831.8" cy="1608.1" rx="15.2" ry="16" fill="#fff" stroke="#b8342e" stroke-width="7"/><line x1="846.4" y1="1571.3" x2="846.4" y2="1647.6" stroke="#b8342e" stroke-width="5.3"/><ellipse cx="846.4" cy="1609.5" rx="15.2" ry="16" fill="#fff" stroke="#b8342e" stroke-width="7"/><line x1="860.9" y1="1567.5" x2="860.9" y2="1643.8" stroke="#b8342e" stroke-width="5.3"/><ellipse cx="860.9" cy="1605.6" rx="15.2" ry="16" fill="#fff" stroke="#b8342e" stroke-width="7"/><line x1="875.5" y1="1560.6" x2="875.5" y2="1629.9" stroke="#b8342e" stroke-width="5.3"/><ellipse cx="875.5" cy="1595.3" rx="15.2" ry="16" fill="#fff" stroke="#b8342e" stroke-width="7"/><line x1="890.1" y1="1560.6" x2="890.1" y2="1623.0" stroke="#b8342e" stroke-width="5.3"/><ellipse cx="890.1" cy="1591.8" rx="15.2" ry="16" fill="#fff" stroke="#b8342e" stroke-width="7"/><line x1="904.6" y1="1565.8" x2="904.6" y2="1621.2" stroke="#b8342e" stroke-width="5.3"/><ellipse cx="904.6" cy="1593.5" rx="15.2" ry="16" fill="#fff" stroke="#b8342e" stroke-width="7"/><line x1="919.2" y1="1558.9" x2="919.2" y2="1607.4" stroke="#b8342e" stroke-width="5.3"/><ellipse cx="919.2" cy="1583.1" rx="15.2" ry="16" fill="#fff" stroke="#b8342e" stroke-width="7"/><line x1="933.7" y1="1548.5" x2="933.7" y2="1603.9" stroke="#b8342e" stroke-width="5.3"/><ellipse cx="933.7" cy="1576.2" rx="15.2" ry="16" fill="#fff" stroke="#b8342e" stroke-width="7"/><line x1="948.3" y1="1539.8" x2="948.3" y2="1609.1" stroke="#b8342e" stroke-width="5.3"/><ellipse cx="948.3" cy="1574.5" rx="15.2" ry="16" fill="#fff" stroke="#b8342e" stroke-width="7"/><line x1="962.9" y1="1545.0" x2="962.9" y2="1607.4" stroke="#b8342e" stroke-width="5.3"/><ellipse cx="962.9" cy="1576.2" rx="15.2" ry="16" fill="#fff" stroke="#b8342e" stroke-width="7"/><line x1="977.4" y1="1545.0" x2="977.4" y2="1600.5" stroke="#b8342e" stroke-width="5.3"/><ellipse cx="977.4" cy="1572.7" rx="15.2" ry="16" fill="#fff" stroke="#b8342e" stroke-width="7"/><line x1="992.0" y1="1538.1" x2="992.0" y2="1614.3" stroke="#b8342e" stroke-width="5.3"/><ellipse cx="992.0" cy="1576.2" rx="15.2" ry="16" fill="#fff" stroke="#b8342e" stroke-width="7"/><line x1="1006.5" y1="1551.9" x2="1006.5" y2="1607.4" stroke="#b8342e" stroke-width="5.3"/><ellipse cx="1006.5" cy="1579.7" rx="15.2" ry="16" fill="#fff" stroke="#b8342e" stroke-width="7"/><line x1="1021.1" y1="1538.1" x2="1021.1" y2="1614.3" stroke="#b8342e" stroke-width="5.3"/><ellipse cx="1021.1" cy="1576.2" rx="15.2" ry="16" fill="#fff" stroke="#b8342e" stroke-width="7"/><line x1="1035.7" y1="1550.2" x2="1035.7" y2="1619.5" stroke="#b8342e" stroke-width="5.3"/><ellipse cx="1035.7" cy="1584.9" rx="15.2" ry="16" fill="#fff" stroke="#b8342e" stroke-width="7"/><line x1="1050.2" y1="1545.0" x2="1050.2" y2="1600.5" stroke="#b8342e" stroke-width="5.3"/><ellipse cx="1050.2" cy="1572.7" rx="15.2" ry="16" fill="#fff" stroke="#b8342e" stroke-width="7"/><line x1="1064.8" y1="1538.1" x2="1064.8" y2="1593.5" stroke="#b8342e" stroke-width="5.3"/><ellipse cx="1064.8" cy="1565.8" rx="15.2" ry="16" fill="#fff" stroke="#b8342e" stroke-width="7"/><line x1="1079.3" y1="1521.4" x2="1079.3" y2="1590.7" stroke="#b8342e" stroke-width="5.3"/><ellipse cx="1079.3" cy="1556.1" rx="15.2" ry="16" fill="#fff" stroke="#b8342e" stroke-width="7"/><line x1="1093.9" y1="1545.0" x2="1093.9" y2="1593.5" stroke="#b8342e" stroke-width="5.3"/><ellipse cx="1093.9" cy="1569.3" rx="15.2" ry="16" fill="#fff" stroke="#b8342e" stroke-width="7"/><line x1="1108.5" y1="1545.0" x2="1108.5" y2="1600.5" stroke="#b8342e" stroke-width="5.3"/><ellipse cx="1108.5" cy="1572.7" rx="15.2" ry="16" fill="#fff" stroke="#b8342e" stroke-width="7"/><line x1="1123.0" y1="1541.5" x2="1123.0" y2="1590.1" stroke="#b8342e" stroke-width="5.3"/><ellipse cx="1123.0" cy="1565.8" rx="15.2" ry="16" fill="#fff" stroke="#b8342e" stroke-width="7"/><line x1="1137.6" y1="1524.2" x2="1137.6" y2="1593.5" stroke="#b8342e" stroke-width="5.3"/><ellipse cx="1137.6" cy="1558.9" rx="15.2" ry="16" fill="#fff" stroke="#b8342e" stroke-width="7"/><line x1="1152.1" y1="1522.5" x2="1152.1" y2="1598.7" stroke="#b8342e" stroke-width="5.3"/><ellipse cx="1152.1" cy="1560.6" rx="15.2" ry="16" fill="#fff" stroke="#b8342e" stroke-width="7"/><line x1="1166.7" y1="1541.5" x2="1166.7" y2="1597.0" stroke="#b8342e" stroke-width="5.3"/><ellipse cx="1166.7" cy="1569.3" rx="15.2" ry="16" fill="#fff" stroke="#b8342e" stroke-width="7"/><line x1="1181.3" y1="1555.4" x2="1181.3" y2="1603.9" stroke="#b8342e" stroke-width="5.3"/><ellipse cx="1181.3" cy="1579.7" rx="15.2" ry="16" fill="#fff" stroke="#b8342e" stroke-width="7"/><line x1="1195.8" y1="1551.9" x2="1195.8" y2="1600.5" stroke="#b8342e" stroke-width="5.3"/><ellipse cx="1195.8" cy="1576.2" rx="15.2" ry="16" fill="#fff" stroke="#b8342e" stroke-width="7"/><line x1="1210.4" y1="1541.5" x2="1210.4" y2="1597.0" stroke="#b8342e" stroke-width="5.3"/><ellipse cx="1210.4" cy="1569.3" rx="15.2" ry="16" fill="#fff" stroke="#b8342e" stroke-width="7"/><line x1="1224.9" y1="1526.0" x2="1224.9" y2="1595.3" stroke="#b8342e" stroke-width="5.3"/><ellipse cx="1224.9" cy="1560.6" rx="15.2" ry="16" fill="#fff" stroke="#b8342e" stroke-width="7"/><line x1="1239.5" y1="1526.0" x2="1239.5" y2="1595.3" stroke="#b8342e" stroke-width="5.3"/><ellipse cx="1239.5" cy="1560.6" rx="15.2" ry="16" fill="#fff" stroke="#b8342e" stroke-width="7"/><line x1="1254.1" y1="1545.0" x2="1254.1" y2="1600.5" stroke="#b8342e" stroke-width="5.3"/><ellipse cx="1254.1" cy="1572.7" rx="15.2" ry="16" fill="#fff" stroke="#b8342e" stroke-width="7"/><line x1="1268.6" y1="1545.0" x2="1268.6" y2="1593.5" stroke="#b8342e" stroke-width="5.3"/><ellipse cx="1268.6" cy="1569.3" rx="15.2" ry="16" fill="#fff" stroke="#b8342e" stroke-width="7"/><line x1="1283.2" y1="1538.1" x2="1283.2" y2="1593.5" stroke="#b8342e" stroke-width="5.3"/><ellipse cx="1283.2" cy="1565.8" rx="15.2" ry="16" fill="#fff" stroke="#b8342e" stroke-width="7"/><line x1="1297.7" y1="1541.5" x2="1297.7" y2="1597.0" stroke="#b8342e" stroke-width="5.3"/><ellipse cx="1297.7" cy="1569.3" rx="15.2" ry="16" fill="#fff" stroke="#b8342e" stroke-width="7"/><line x1="1312.3" y1="1545.0" x2="1312.3" y2="1600.5" stroke="#b8342e" stroke-width="5.3"/><ellipse cx="1312.3" cy="1572.7" rx="15.2" ry="16" fill="#fff" stroke="#b8342e" stroke-width="7"/><line x1="1326.9" y1="1548.5" x2="1326.9" y2="1603.9" stroke="#b8342e" stroke-width="5.3"/><ellipse cx="1326.9" cy="1576.2" rx="15.2" ry="16" fill="#fff" stroke="#b8342e" stroke-width="7"/><line x1="1341.4" y1="1545.0" x2="1341.4" y2="1600.5" stroke="#b8342e" stroke-width="5.3"/><ellipse cx="1341.4" cy="1572.7" rx="15.2" ry="16" fill="#fff" stroke="#b8342e" stroke-width="7"/><line x1="1356.0" y1="1541.5" x2="1356.0" y2="1603.9" stroke="#b8342e" stroke-width="5.3"/><ellipse cx="1356.0" cy="1572.7" rx="15.2" ry="16" fill="#fff" stroke="#b8342e" stroke-width="7"/><line x1="1370.5" y1="1543.3" x2="1370.5" y2="1605.6" stroke="#b8342e" stroke-width="5.3"/><ellipse cx="1370.5" cy="1574.5" rx="15.2" ry="16" fill="#fff" stroke="#b8342e" stroke-width="7"/><line x1="1385.1" y1="1534.6" x2="1385.1" y2="1603.9" stroke="#b8342e" stroke-width="5.3"/><ellipse cx="1385.1" cy="1569.3" rx="15.2" ry="16" fill="#fff" stroke="#b8342e" stroke-width="7"/><line x1="1399.7" y1="1527.7" x2="1399.7" y2="1597.0" stroke="#b8342e" stroke-width="5.3"/><ellipse cx="1399.7" cy="1562.3" rx="15.2" ry="16" fill="#fff" stroke="#b8342e" stroke-width="7"/><line x1="1414.2" y1="1523.2" x2="1414.2" y2="1595.9" stroke="#b8342e" stroke-width="5.3"/><ellipse cx="1414.2" cy="1559.6" rx="15.2" ry="16" fill="#fff" stroke="#b8342e" stroke-width="7"/><line x1="1428.8" y1="1531.2" x2="1428.8" y2="1600.5" stroke="#b8342e" stroke-width="5.3"/><ellipse cx="1428.8" cy="1565.8" rx="15.2" ry="16" fill="#fff" stroke="#b8342e" stroke-width="7"/><line x1="1443.3" y1="1534.6" x2="1443.3" y2="1603.9" stroke="#b8342e" stroke-width="5.3"/><ellipse cx="1443.3" cy="1569.3" rx="15.2" ry="16" fill="#fff" stroke="#b8342e" stroke-width="7"/><line x1="1457.9" y1="1539.8" x2="1457.9" y2="1602.2" stroke="#b8342e" stroke-width="5.3"/><ellipse cx="1457.9" cy="1571.0" rx="15.2" ry="16" fill="#fff" stroke="#b8342e" stroke-width="7"/><line x1="1472.5" y1="1545.0" x2="1472.5" y2="1607.4" stroke="#b8342e" stroke-width="5.3"/><ellipse cx="1472.5" cy="1576.2" rx="15.2" ry="16" fill="#fff" stroke="#b8342e" stroke-width="7"/><line x1="1487.0" y1="1548.5" x2="1487.0" y2="1610.8" stroke="#b8342e" stroke-width="5.3"/><ellipse cx="1487.0" cy="1579.7" rx="15.2" ry="16" fill="#fff" stroke="#b8342e" stroke-width="7"/><line x1="1501.6" y1="1543.3" x2="1501.6" y2="1612.6" stroke="#b8342e" stroke-width="5.3"/><ellipse cx="1501.6" cy="1577.9" rx="15.2" ry="16" fill="#fff" stroke="#b8342e" stroke-width="7"/><line x1="1516.1" y1="1531.5" x2="1516.1" y2="1607.7" stroke="#b8342e" stroke-width="5.3"/><ellipse cx="1516.1" cy="1569.6" rx="15.2" ry="16" fill="#fff" stroke="#b8342e" stroke-width="7"/><line x1="1530.7" y1="1526.3" x2="1530.7" y2="1692.6" stroke="#b8342e" stroke-width="5.3"/><ellipse cx="1530.7" cy="1609.5" rx="15.2" ry="16" fill="#fff" stroke="#b8342e" stroke-width="7"/>
</g>
<g id="series-wt"><line x1="365.9" y1="1689.5" x2="365.9" y2="1710.3" stroke="#000" stroke-width="6.5"/><ellipse cx="365.9" cy="1699.9" rx="18.7" ry="19.6" fill="#000"/><line x1="380.5" y1="1684.6" x2="380.5" y2="1705.4" stroke="#000" stroke-width="6.5"/><ellipse cx="380.5" cy="1695.0" rx="18.7" ry="19.6" fill="#000"/><line x1="395.0" y1="1694.4" x2="395.0" y2="1715.1" stroke="#000" stroke-width="6.5"/><ellipse cx="395.0" cy="1704.7" rx="18.7" ry="19.6" fill="#000"/><line x1="409.6" y1="1689.5" x2="409.6" y2="1710.3" stroke="#000" stroke-width="6.5"/><ellipse cx="409.6" cy="1699.9" rx="18.7" ry="19.6" fill="#000"/><line x1="424.1" y1="1684.6" x2="424.1" y2="1705.4" stroke="#000" stroke-width="6.5"/><ellipse cx="424.1" cy="1695.0" rx="18.7" ry="19.6" fill="#000"/><line x1="438.7" y1="1694.4" x2="438.7" y2="1715.1" stroke="#000" stroke-width="6.5"/><ellipse cx="438.7" cy="1704.7" rx="18.7" ry="19.6" fill="#000"/><line x1="453.3" y1="1696.8" x2="453.3" y2="1717.6" stroke="#000" stroke-width="6.5"/><ellipse cx="453.3" cy="1707.2" rx="18.7" ry="19.6" fill="#000"/><line x1="467.8" y1="1696.8" x2="467.8" y2="1717.6" stroke="#000" stroke-width="6.5"/><ellipse cx="467.8" cy="1707.2" rx="18.7" ry="19.6" fill="#000"/><line x1="482.4" y1="1695.4" x2="482.4" y2="1716.2" stroke="#000" stroke-width="6.5"/><ellipse cx="482.4" cy="1705.8" rx="18.7" ry="19.6" fill="#000"/><line x1="496.9" y1="1693.0" x2="496.9" y2="1713.8" stroke="#000" stroke-width="6.5"/><ellipse cx="496.9" cy="1703.4" rx="18.7" ry="19.6" fill="#000"/><line x1="511.5" y1="1691.9" x2="511.5" y2="1712.7" stroke="#000" stroke-width="6.5"/><ellipse cx="511.5" cy="1702.3" rx="18.7" ry="19.6" fill="#000"/><line x1="526.1" y1="1691.9" x2="526.1" y2="1712.7" stroke="#000" stroke-width="6.5"/><ellipse cx="526.1" cy="1702.3" rx="18.7" ry="19.6" fill="#000"/><line x1="540.6" y1="1687.1" x2="540.6" y2="1707.9" stroke="#000" stroke-width="6.5"/><ellipse cx="540.6" cy="1697.5" rx="18.7" ry="19.6" fill="#000"/><line x1="555.2" y1="1684.6" x2="555.2" y2="1705.4" stroke="#000" stroke-width="6.5"/><ellipse cx="555.2" cy="1695.0" rx="18.7" ry="19.6" fill="#000"/><line x1="569.7" y1="1680.1" x2="569.7" y2="1700.9" stroke="#000" stroke-width="6.5"/><ellipse cx="569.7" cy="1690.5" rx="18.7" ry="19.6" fill="#000"/><line x1="584.3" y1="1684.6" x2="584.3" y2="1705.4" stroke="#000" stroke-width="6.5"/><ellipse cx="584.3" cy="1695.0" rx="18.7" ry="19.6" fill="#000"/><line x1="598.9" y1="1688.1" x2="598.9" y2="1708.9" stroke="#000" stroke-width="6.5"/><ellipse cx="598.9" cy="1698.5" rx="18.7" ry="19.6" fill="#000"/><line x1="613.4" y1="1693.0" x2="613.4" y2="1713.8" stroke="#000" stroke-width="6.5"/><ellipse cx="613.4" cy="1703.4" rx="18.7" ry="19.6" fill="#000"/><line x1="628.0" y1="1696.8" x2="628.0" y2="1717.6" stroke="#000" stroke-width="6.5"/><ellipse cx="628.0" cy="1707.2" rx="18.7" ry="19.6" fill="#000"/><line x1="642.5" y1="1697.8" x2="642.5" y2="1718.6" stroke="#000" stroke-width="6.5"/><ellipse cx="642.5" cy="1708.2" rx="18.7" ry="19.6" fill="#000"/>
<line x1="657.1" y1="1202.7" x2="657.1" y2="1355.1" stroke="#000" stroke-width="6.5"/><ellipse cx="657.1" cy="1278.9" rx="18.7" ry="19.6" fill="#000"/><line x1="671.7" y1="1362.8" x2="671.7" y2="1463.9" stroke="#000" stroke-width="6.5"/><ellipse cx="671.7" cy="1413.3" rx="18.7" ry="19.6" fill="#000"/><line x1="686.2" y1="1437.6" x2="686.2" y2="1527.7" stroke="#000" stroke-width="6.5"/><ellipse cx="686.2" cy="1482.6" rx="18.7" ry="19.6" fill="#000"/><line x1="700.8" y1="1462.5" x2="700.8" y2="1538.8" stroke="#000" stroke-width="6.5"/><ellipse cx="700.8" cy="1500.7" rx="18.7" ry="19.6" fill="#000"/><line x1="715.3" y1="1486.8" x2="715.3" y2="1563.0" stroke="#000" stroke-width="6.5"/><ellipse cx="715.3" cy="1524.9" rx="18.7" ry="19.6" fill="#000"/><line x1="729.9" y1="1487.8" x2="729.9" y2="1560.6" stroke="#000" stroke-width="6.5"/><ellipse cx="729.9" cy="1524.2" rx="18.7" ry="19.6" fill="#000"/><line x1="744.5" y1="1504.8" x2="744.5" y2="1574.1" stroke="#000" stroke-width="6.5"/><ellipse cx="744.5" cy="1539.5" rx="18.7" ry="19.6" fill="#000"/><line x1="759.0" y1="1519.0" x2="759.0" y2="1588.3" stroke="#000" stroke-width="6.5"/><ellipse cx="759.0" cy="1553.7" rx="18.7" ry="19.6" fill="#000"/><line x1="773.6" y1="1526.3" x2="773.6" y2="1595.6" stroke="#000" stroke-width="6.5"/><ellipse cx="773.6" cy="1560.9" rx="18.7" ry="19.6" fill="#000"/><line x1="788.1" y1="1532.9" x2="788.1" y2="1598.7" stroke="#000" stroke-width="6.5"/><ellipse cx="788.1" cy="1565.8" rx="18.7" ry="19.6" fill="#000"/><line x1="802.7" y1="1538.8" x2="802.7" y2="1597.7" stroke="#000" stroke-width="6.5"/><ellipse cx="802.7" cy="1568.2" rx="18.7" ry="19.6" fill="#000"/><line x1="817.3" y1="1539.5" x2="817.3" y2="1594.9" stroke="#000" stroke-width="6.5"/><ellipse cx="817.3" cy="1567.2" rx="18.7" ry="19.6" fill="#000"/><line x1="831.8" y1="1518.0" x2="831.8" y2="1594.2" stroke="#000" stroke-width="6.5"/><ellipse cx="831.8" cy="1556.1" rx="18.7" ry="19.6" fill="#000"/><line x1="846.4" y1="1527.7" x2="846.4" y2="1590.1" stroke="#000" stroke-width="6.5"/><ellipse cx="846.4" cy="1558.9" rx="18.7" ry="19.6" fill="#000"/><line x1="860.9" y1="1535.7" x2="860.9" y2="1591.1" stroke="#000" stroke-width="6.5"/><ellipse cx="860.9" cy="1563.4" rx="18.7" ry="19.6" fill="#000"/><line x1="875.5" y1="1551.9" x2="875.5" y2="1593.5" stroke="#000" stroke-width="6.5"/><ellipse cx="875.5" cy="1572.7" rx="18.7" ry="19.6" fill="#000"/><line x1="890.1" y1="1527.0" x2="890.1" y2="1561.6" stroke="#000" stroke-width="6.5"/><ellipse cx="890.1" cy="1544.3" rx="18.7" ry="19.6" fill="#000"/><line x1="904.6" y1="1529.4" x2="904.6" y2="1564.1" stroke="#000" stroke-width="6.5"/><ellipse cx="904.6" cy="1546.7" rx="18.7" ry="19.6" fill="#000"/><line x1="919.2" y1="1543.6" x2="919.2" y2="1578.3" stroke="#000" stroke-width="6.5"/><ellipse cx="919.2" cy="1560.9" rx="18.7" ry="19.6" fill="#000"/><line x1="933.7" y1="1555.4" x2="933.7" y2="1590.1" stroke="#000" stroke-width="6.5"/><ellipse cx="933.7" cy="1572.7" rx="18.7" ry="19.6" fill="#000"/><line x1="948.3" y1="1553.0" x2="948.3" y2="1587.6" stroke="#000" stroke-width="6.5"/><ellipse cx="948.3" cy="1570.3" rx="18.7" ry="19.6" fill="#000"/><line x1="962.9" y1="1555.4" x2="962.9" y2="1590.1" stroke="#000" stroke-width="6.5"/><ellipse cx="962.9" cy="1572.7" rx="18.7" ry="19.6" fill="#000"/><line x1="977.4" y1="1546.0" x2="977.4" y2="1580.7" stroke="#000" stroke-width="6.5"/><ellipse cx="977.4" cy="1563.4" rx="18.7" ry="19.6" fill="#000"/><line x1="992.0" y1="1558.9" x2="992.0" y2="1593.5" stroke="#000" stroke-width="6.5"/><ellipse cx="992.0" cy="1576.2" rx="18.7" ry="19.6" fill="#000"/><line x1="1006.5" y1="1564.8" x2="1006.5" y2="1599.4" stroke="#000" stroke-width="6.5"/><ellipse cx="1006.5" cy="1582.1" rx="18.7" ry="19.6" fill="#000"/><line x1="1021.1" y1="1551.2" x2="1021.1" y2="1585.9" stroke="#000" stroke-width="6.5"/><ellipse cx="1021.1" cy="1568.6" rx="18.7" ry="19.6" fill="#000"/><line x1="1035.7" y1="1574.1" x2="1035.7" y2="1608.8" stroke="#000" stroke-width="6.5"/><ellipse cx="1035.7" cy="1591.4" rx="18.7" ry="19.6" fill="#000"/><line x1="1050.2" y1="1559.6" x2="1050.2" y2="1594.2" stroke="#000" stroke-width="6.5"/><ellipse cx="1050.2" cy="1576.9" rx="18.7" ry="19.6" fill="#000"/><line x1="1064.8" y1="1559.6" x2="1064.8" y2="1594.2" stroke="#000" stroke-width="6.5"/><ellipse cx="1064.8" cy="1576.9" rx="18.7" ry="19.6" fill="#000"/><line x1="1079.3" y1="1567.5" x2="1079.3" y2="1602.2" stroke="#000" stroke-width="6.5"/><ellipse cx="1079.3" cy="1584.9" rx="18.7" ry="19.6" fill="#000"/><line x1="1093.9" y1="1578.6" x2="1093.9" y2="1613.3" stroke="#000" stroke-width="6.5"/><ellipse cx="1093.9" cy="1595.9" rx="18.7" ry="19.6" fill="#000"/><line x1="1108.5" y1="1562.3" x2="1108.5" y2="1597.0" stroke="#000" stroke-width="6.5"/><ellipse cx="1108.5" cy="1579.7" rx="18.7" ry="19.6" fill="#000"/><line x1="1123.0" y1="1572.7" x2="1123.0" y2="1607.4" stroke="#000" stroke-width="6.5"/><ellipse cx="1123.0" cy="1590.1" rx="18.7" ry="19.6" fill="#000"/><line x1="1137.6" y1="1572.7" x2="1137.6" y2="1607.4" stroke="#000" stroke-width="6.5"/><ellipse cx="1137.6" cy="1590.1" rx="18.7" ry="19.6" fill="#000"/><line x1="1152.1" y1="1572.7" x2="1152.1" y2="1607.4" stroke="#000" stroke-width="6.5"/><ellipse cx="1152.1" cy="1590.1" rx="18.7" ry="19.6" fill="#000"/><line x1="1166.7" y1="1572.7" x2="1166.7" y2="1607.4" stroke="#000" stroke-width="6.5"/><ellipse cx="1166.7" cy="1590.1" rx="18.7" ry="19.6" fill="#000"/><line x1="1181.3" y1="1564.1" x2="1181.3" y2="1598.7" stroke="#000" stroke-width="6.5"/><ellipse cx="1181.3" cy="1581.4" rx="18.7" ry="19.6" fill="#000"/><line x1="1195.8" y1="1577.9" x2="1195.8" y2="1612.6" stroke="#000" stroke-width="6.5"/><ellipse cx="1195.8" cy="1595.3" rx="18.7" ry="19.6" fill="#000"/><line x1="1210.4" y1="1586.6" x2="1210.4" y2="1621.2" stroke="#000" stroke-width="6.5"/><ellipse cx="1210.4" cy="1603.9" rx="18.7" ry="19.6" fill="#000"/><line x1="1224.9" y1="1579.7" x2="1224.9" y2="1614.3" stroke="#000" stroke-width="6.5"/><ellipse cx="1224.9" cy="1597.0" rx="18.7" ry="19.6" fill="#000"/><line x1="1239.5" y1="1580.4" x2="1239.5" y2="1615.0" stroke="#000" stroke-width="6.5"/><ellipse cx="1239.5" cy="1597.7" rx="18.7" ry="19.6" fill="#000"/><line x1="1254.1" y1="1581.4" x2="1254.1" y2="1616.0" stroke="#000" stroke-width="6.5"/><ellipse cx="1254.1" cy="1598.7" rx="18.7" ry="19.6" fill="#000"/><line x1="1268.6" y1="1568.6" x2="1268.6" y2="1603.2" stroke="#000" stroke-width="6.5"/><ellipse cx="1268.6" cy="1585.9" rx="18.7" ry="19.6" fill="#000"/><line x1="1283.2" y1="1584.2" x2="1283.2" y2="1618.8" stroke="#000" stroke-width="6.5"/><ellipse cx="1283.2" cy="1601.5" rx="18.7" ry="19.6" fill="#000"/><line x1="1297.7" y1="1578.6" x2="1297.7" y2="1613.3" stroke="#000" stroke-width="6.5"/><ellipse cx="1297.7" cy="1595.9" rx="18.7" ry="19.6" fill="#000"/><line x1="1312.3" y1="1576.9" x2="1312.3" y2="1611.5" stroke="#000" stroke-width="6.5"/><ellipse cx="1312.3" cy="1594.2" rx="18.7" ry="19.6" fill="#000"/><line x1="1326.9" y1="1599.4" x2="1326.9" y2="1634.1" stroke="#000" stroke-width="6.5"/><ellipse cx="1326.9" cy="1616.7" rx="18.7" ry="19.6" fill="#000"/><line x1="1341.4" y1="1598.7" x2="1341.4" y2="1633.4" stroke="#000" stroke-width="6.5"/><ellipse cx="1341.4" cy="1616.0" rx="18.7" ry="19.6" fill="#000"/><line x1="1356.0" y1="1579.7" x2="1356.0" y2="1614.3" stroke="#000" stroke-width="6.5"/><ellipse cx="1356.0" cy="1597.0" rx="18.7" ry="19.6" fill="#000"/><line x1="1370.5" y1="1578.6" x2="1370.5" y2="1613.3" stroke="#000" stroke-width="6.5"/><ellipse cx="1370.5" cy="1595.9" rx="18.7" ry="19.6" fill="#000"/><line x1="1385.1" y1="1600.5" x2="1385.1" y2="1635.1" stroke="#000" stroke-width="6.5"/><ellipse cx="1385.1" cy="1617.8" rx="18.7" ry="19.6" fill="#000"/><line x1="1399.7" y1="1593.5" x2="1399.7" y2="1628.2" stroke="#000" stroke-width="6.5"/><ellipse cx="1399.7" cy="1610.8" rx="18.7" ry="19.6" fill="#000"/><line x1="1414.2" y1="1597.0" x2="1414.2" y2="1631.6" stroke="#000" stroke-width="6.5"/><ellipse cx="1414.2" cy="1614.3" rx="18.7" ry="19.6" fill="#000"/><line x1="1428.8" y1="1589.4" x2="1428.8" y2="1624.0" stroke="#000" stroke-width="6.5"/><ellipse cx="1428.8" cy="1606.7" rx="18.7" ry="19.6" fill="#000"/><line x1="1443.3" y1="1602.9" x2="1443.3" y2="1637.5" stroke="#000" stroke-width="6.5"/><ellipse cx="1443.3" cy="1620.2" rx="18.7" ry="19.6" fill="#000"/><line x1="1457.9" y1="1597.0" x2="1457.9" y2="1631.6" stroke="#000" stroke-width="6.5"/><ellipse cx="1457.9" cy="1614.3" rx="18.7" ry="19.6" fill="#000"/><line x1="1472.5" y1="1586.6" x2="1472.5" y2="1621.2" stroke="#000" stroke-width="6.5"/><ellipse cx="1472.5" cy="1603.9" rx="18.7" ry="19.6" fill="#000"/><line x1="1487.0" y1="1606.7" x2="1487.0" y2="1641.3" stroke="#000" stroke-width="6.5"/><ellipse cx="1487.0" cy="1624.0" rx="18.7" ry="19.6" fill="#000"/><line x1="1501.6" y1="1590.1" x2="1501.6" y2="1624.7" stroke="#000" stroke-width="6.5"/><ellipse cx="1501.6" cy="1607.4" rx="18.7" ry="19.6" fill="#000"/><line x1="1516.1" y1="1601.8" x2="1516.1" y2="1636.5" stroke="#000" stroke-width="6.5"/><ellipse cx="1516.1" cy="1619.2" rx="18.7" ry="19.6" fill="#000"/><line x1="1530.7" y1="1598.7" x2="1530.7" y2="1633.4" stroke="#000" stroke-width="6.5"/><ellipse cx="1530.7" cy="1616.0" rx="18.7" ry="19.6" fill="#000"/>
</g>
<path d="M366.3 1180.6L366.3 2078.5M341 2050.9L1534.2 2050.9M341 1184.7L366.3 1184.7M341 1357.9L366.3 1357.9M341 1531.2L366.3 1531.2M341 1704.4L366.3 1704.4M341 1877.7L366.3 1877.7M657.1 2050.9L657.1 2078M948.3 2050.9L948.3 2078M1239.5 2050.9L1239.5 2078M1530.7 2050.9L1530.7 2078" fill="none" stroke="#000" stroke-width="7"/>
<text transform="translate(221.67 1207.45) scale(1 1.0756)" font-size="66.65" font-weight="normal" font-style="normal" fill="#000" >250</text>
<text transform="translate(221.67 1380.70) scale(1 1.0756)" font-size="66.65" font-weight="normal" font-style="normal" fill="#000" >200</text>
<text transform="translate(219.92 1553.95) scale(1 1.0586)" font-size="67.72" font-weight="normal" font-style="normal" fill="#000" >150</text>
<text transform="translate(219.92 1727.20) scale(1 1.0586)" font-size="67.72" font-weight="normal" font-style="normal" fill="#000" >100</text>
<text transform="translate(260.18 1900.45) scale(1 1.0965)" font-size="65.38" font-weight="normal" font-style="normal" fill="#000" >50</text>
<text transform="translate(297.25 2073.70) scale(1 1.1223)" font-size="63.87" font-weight="normal" font-style="normal" fill="#000" >0</text>
<text transform="translate(319.47 2137.00) scale(1 1.0777)" font-size="60.53" font-weight="normal" font-style="normal" fill="#000" >−20</text>
<text transform="translate(639.75 2137.00) scale(1 1.0213)" font-size="63.87" font-weight="normal" font-style="normal" fill="#000" >0</text>
<text transform="translate(911.83 2137.00) scale(1 1.0638)" font-size="61.32" font-weight="normal" font-style="normal" fill="#000" >20</text>
<text transform="translate(1204.65 2137.00) scale(1 1.0907)" font-size="59.81" font-weight="normal" font-style="normal" fill="#000" >40</text>
<text transform="translate(1494.58 2137.00) scale(1 1.0793)" font-size="60.44" font-weight="normal" font-style="normal" fill="#000" >60</text>
<text transform="translate(796.65 2199.40) scale(1 1.1589)" font-size="64.51" font-weight="normal" font-style="normal" fill="#000" >Time (min)</text>
<text transform="translate(124.30 2018.60) rotate(-90) translate(-5.85 0) scale(1 1.0306)" font-size="70.93" font-weight="normal" font-style="normal" fill="#000" >Normalized fEPSP slope</text>
<text transform="translate(212.00 1832.50) rotate(-90) translate(-4.48 0) scale(1 1.0150)" font-size="71.75" font-weight="normal" font-style="normal" fill="#000" >(% baseline)</text>
<text transform="translate(383.35 1448.10) scale(1 1.1639)" font-size="49.36" font-weight="normal" font-style="normal" fill="#000" >VU0422288</text>
<rect x="457.6" y="1473.8" width="170.2" height="10.4" fill="#000"/>
<path d="M674.4 1890L674.4 1800" stroke="#000" stroke-width="5" fill="none"/>
<path d="M674.4 1773.5L688 1806L660.8 1806Z" fill="#000"/>
<text transform="translate(543.26 1947.90) scale(1 1.1219)" font-size="56.87" font-weight="normal" font-style="normal" fill="#000" >2× 100 Hz</text>
<ellipse cx="839.9" cy="1868.3" rx="18.7" ry="19.7" fill="#231f20"/>
<ellipse cx="839.2" cy="1945" rx="18.7" ry="19.7" fill="#b8342e"/>
<ellipse cx="839.2" cy="2015.8" rx="16.4" ry="17.6" fill="#fff" stroke="#b8342e" stroke-width="9"/>
<text transform="translate(868.35 1889.60) scale(1 1.0692)" font-size="58.22" font-weight="normal" font-style="italic" fill="#000" >Mecp2</text>
<text transform="translate(1041.87 1862.30) scale(1 1.0222)" font-size="44.53" font-weight="normal" font-style="normal" fill="#000" >+/+</text>
<text transform="translate(868.35 1963.10) scale(1 1.0692)" font-size="58.22" font-weight="normal" font-style="italic" fill="#000" >Mecp2</text>
<text transform="translate(1041.87 1935.80) scale(1 1.0222)" font-size="44.53" font-weight="normal" font-style="normal" fill="#000" >+/−</text>
<text transform="translate(868.35 2032.70) scale(1 1.0692)" font-size="58.22" font-weight="normal" font-style="italic" fill="#000" >Mecp2</text>
<text transform="translate(1041.87 2005.40) scale(1 1.0222)" font-size="44.53" font-weight="normal" font-style="normal" fill="#000" >+/−</text>
<text transform="translate(1096.98 2035.20) scale(1 1.1544)" font-size="54.43" font-weight="normal" font-style="normal" fill="#000" >+1 µM VU0422288</text>
</g>

</svg>
</body>
</html>
